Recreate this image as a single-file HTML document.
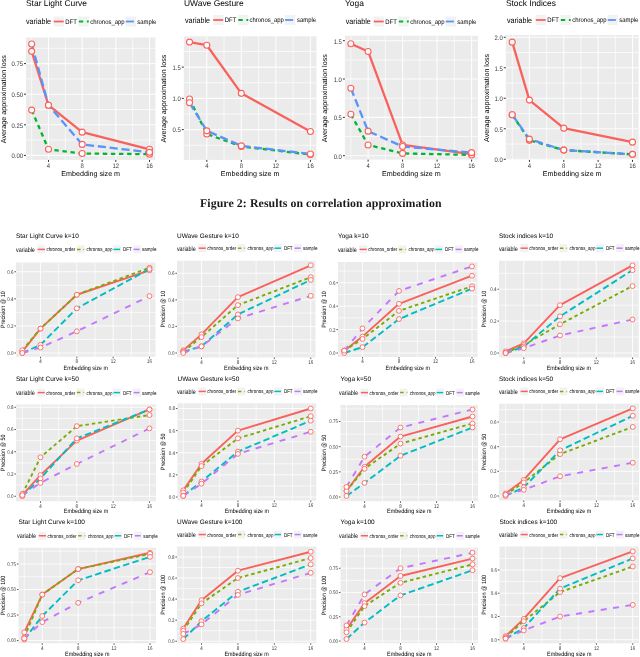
<!DOCTYPE html><html><head><meta charset="utf-8"><style>html,body{margin:0;padding:0;background:#fff;}svg{display:block;will-change:transform;}</style></head><body>
<svg width="640" height="657" viewBox="0 0 640 657" text-rendering="geometricPrecision" font-family="'Liberation Sans', sans-serif">
<rect width="640" height="657" fill="#fff"/>
<rect x="26.00" y="37.50" width="129.40" height="122.40" fill="#EBEBEB"/>
<line x1="31.67" y1="37.50" x2="31.67" y2="159.90" stroke="#FFFFFF" stroke-opacity="0.75" stroke-width="0.9"/>
<line x1="65.33" y1="37.50" x2="65.33" y2="159.90" stroke="#FFFFFF" stroke-opacity="0.75" stroke-width="0.9"/>
<line x1="99.00" y1="37.50" x2="99.00" y2="159.90" stroke="#FFFFFF" stroke-opacity="0.75" stroke-width="0.9"/>
<line x1="132.67" y1="37.50" x2="132.67" y2="159.90" stroke="#FFFFFF" stroke-opacity="0.75" stroke-width="0.9"/>
<line x1="26.00" y1="140.10" x2="155.40" y2="140.10" stroke="#FFFFFF" stroke-opacity="0.75" stroke-width="0.9"/>
<line x1="26.00" y1="109.50" x2="155.40" y2="109.50" stroke="#FFFFFF" stroke-opacity="0.75" stroke-width="0.9"/>
<line x1="26.00" y1="78.90" x2="155.40" y2="78.90" stroke="#FFFFFF" stroke-opacity="0.75" stroke-width="0.9"/>
<line x1="26.00" y1="48.30" x2="155.40" y2="48.30" stroke="#FFFFFF" stroke-opacity="0.75" stroke-width="0.9"/>
<line x1="48.50" y1="37.50" x2="48.50" y2="159.90" stroke="#FFFFFF" stroke-opacity="0.9" stroke-width="1.1"/>
<line x1="82.17" y1="37.50" x2="82.17" y2="159.90" stroke="#FFFFFF" stroke-opacity="0.9" stroke-width="1.1"/>
<line x1="115.83" y1="37.50" x2="115.83" y2="159.90" stroke="#FFFFFF" stroke-opacity="0.9" stroke-width="1.1"/>
<line x1="149.50" y1="37.50" x2="149.50" y2="159.90" stroke="#FFFFFF" stroke-opacity="0.9" stroke-width="1.1"/>
<line x1="26.00" y1="155.40" x2="155.40" y2="155.40" stroke="#FFFFFF" stroke-opacity="0.9" stroke-width="1.1"/>
<line x1="26.00" y1="124.80" x2="155.40" y2="124.80" stroke="#FFFFFF" stroke-opacity="0.9" stroke-width="1.1"/>
<line x1="26.00" y1="94.20" x2="155.40" y2="94.20" stroke="#FFFFFF" stroke-opacity="0.9" stroke-width="1.1"/>
<line x1="26.00" y1="63.60" x2="155.40" y2="63.60" stroke="#FFFFFF" stroke-opacity="0.9" stroke-width="1.1"/>
<line x1="24.00" y1="155.40" x2="26.00" y2="155.40" stroke="#333333" stroke-width="1.0"/>
<text transform="translate(23.00,158.24) scale(0.909,1)" font-size="6.53" text-anchor="end" fill="#3A3A3A">0.00</text>
<line x1="24.00" y1="124.80" x2="26.00" y2="124.80" stroke="#333333" stroke-width="1.0"/>
<text transform="translate(23.00,127.64) scale(0.909,1)" font-size="6.53" text-anchor="end" fill="#3A3A3A">0.25</text>
<line x1="24.00" y1="94.20" x2="26.00" y2="94.20" stroke="#333333" stroke-width="1.0"/>
<text transform="translate(23.00,97.04) scale(0.909,1)" font-size="6.53" text-anchor="end" fill="#3A3A3A">0.50</text>
<line x1="24.00" y1="63.60" x2="26.00" y2="63.60" stroke="#333333" stroke-width="1.0"/>
<text transform="translate(23.00,66.44) scale(0.909,1)" font-size="6.53" text-anchor="end" fill="#3A3A3A">0.75</text>
<line x1="48.50" y1="159.90" x2="48.50" y2="161.90" stroke="#333333" stroke-width="1.0"/>
<text transform="translate(48.50,168.17) scale(0.909,1)" font-size="6.53" text-anchor="middle" fill="#3A3A3A">4</text>
<line x1="82.17" y1="159.90" x2="82.17" y2="161.90" stroke="#333333" stroke-width="1.0"/>
<text transform="translate(82.17,168.17) scale(0.909,1)" font-size="6.53" text-anchor="middle" fill="#3A3A3A">8</text>
<line x1="115.83" y1="159.90" x2="115.83" y2="161.90" stroke="#333333" stroke-width="1.0"/>
<text transform="translate(115.83,168.17) scale(0.909,1)" font-size="6.53" text-anchor="middle" fill="#3A3A3A">12</text>
<line x1="149.50" y1="159.90" x2="149.50" y2="161.90" stroke="#333333" stroke-width="1.0"/>
<text transform="translate(149.50,168.17) scale(0.909,1)" font-size="6.53" text-anchor="middle" fill="#3A3A3A">16</text>
<text transform="translate(90.70,175.80) scale(1.000,1)" font-size="7.15" text-anchor="middle" fill="#000">Embedding size m</text>
<text transform="translate(5.60,99.20) rotate(-90) scale(1.000,1)" font-size="7.15" text-anchor="middle" fill="#000">Average approximation loss</text>
<text x="26.00" y="6.20" font-size="8.44" fill="#000">Star Light Curve</text>
<svg x="26.00" y="37.50" width="129.40" height="122.40" viewBox="26.00 37.50 129.40 122.40" overflow="hidden">
<polyline points="31.67,51.36 48.50,105.22 82.17,132.14 149.50,149.28" fill="none" stroke="#F9625C" stroke-width="2.3" stroke-linejoin="round"/>
<polyline points="31.67,110.11 48.50,149.28 82.17,153.56 149.50,154.18" fill="none" stroke="#00B52F" stroke-width="2.3" stroke-dasharray="4.4 3.7" stroke-linejoin="round"/>
<polyline points="31.67,44.02 48.50,105.22 82.17,144.38 149.50,152.34" fill="none" stroke="#5A93FA" stroke-width="2.3" stroke-dasharray="8.1 3.8" stroke-linejoin="round"/>
<circle cx="31.67" cy="51.36" r="3.0" fill="#FFFFFF" stroke="#F9625C" stroke-width="1.1"/>
<circle cx="48.50" cy="105.22" r="3.0" fill="#FFFFFF" stroke="#F9625C" stroke-width="1.1"/>
<circle cx="82.17" cy="132.14" r="3.0" fill="#FFFFFF" stroke="#F9625C" stroke-width="1.1"/>
<circle cx="149.50" cy="149.28" r="3.0" fill="#FFFFFF" stroke="#F9625C" stroke-width="1.1"/>
<circle cx="31.67" cy="110.11" r="3.0" fill="#FFFFFF" stroke="#F9625C" stroke-width="1.1"/>
<circle cx="48.50" cy="149.28" r="3.0" fill="#FFFFFF" stroke="#F9625C" stroke-width="1.1"/>
<circle cx="82.17" cy="153.56" r="3.0" fill="#FFFFFF" stroke="#F9625C" stroke-width="1.1"/>
<circle cx="149.50" cy="154.18" r="3.0" fill="#FFFFFF" stroke="#F9625C" stroke-width="1.1"/>
<circle cx="31.67" cy="44.02" r="3.0" fill="#FFFFFF" stroke="#F9625C" stroke-width="1.1"/>
<circle cx="48.50" cy="105.22" r="3.0" fill="#FFFFFF" stroke="#F9625C" stroke-width="1.1"/>
<circle cx="82.17" cy="144.38" r="3.0" fill="#FFFFFF" stroke="#F9625C" stroke-width="1.1"/>
<circle cx="149.50" cy="152.34" r="3.0" fill="#FFFFFF" stroke="#F9625C" stroke-width="1.1"/>
</svg>
<text transform="translate(26.00,24.27) scale(0.893,1)" font-size="8.01" text-anchor="start" fill="#000">variable</text>
<rect x="53.50" y="16.50" width="10.50" height="10.00" fill="#F2F2F2"/>
<line x1="53.80" y1="21.50" x2="63.70" y2="21.50" stroke="#F9625C" stroke-width="1.8"/>
<text transform="translate(65.30,23.84) scale(0.893,1)" font-size="6.65" text-anchor="start" fill="#000">DFT</text>
<rect x="78.50" y="16.50" width="10.50" height="10.00" fill="#F2F2F2"/>
<line x1="78.80" y1="21.50" x2="88.70" y2="21.50" stroke="#00B52F" stroke-width="1.8" stroke-dasharray="4.4 3.7"/>
<text transform="translate(90.30,23.84) scale(0.893,1)" font-size="6.65" text-anchor="start" fill="#000">chronos_app</text>
<rect x="125.50" y="16.50" width="10.50" height="10.00" fill="#F2F2F2"/>
<line x1="125.80" y1="21.50" x2="135.70" y2="21.50" stroke="#5A93FA" stroke-width="1.8" stroke-dasharray="8.1 3.8"/>
<text transform="translate(137.30,23.84) scale(0.893,1)" font-size="6.65" text-anchor="start" fill="#000">sample</text>
<rect x="183.80" y="36.25" width="132.70" height="123.65" fill="#EBEBEB"/>
<line x1="189.53" y1="36.25" x2="189.53" y2="159.90" stroke="#FFFFFF" stroke-opacity="0.75" stroke-width="0.9"/>
<line x1="224.07" y1="36.25" x2="224.07" y2="159.90" stroke="#FFFFFF" stroke-opacity="0.75" stroke-width="0.9"/>
<line x1="258.60" y1="36.25" x2="258.60" y2="159.90" stroke="#FFFFFF" stroke-opacity="0.75" stroke-width="0.9"/>
<line x1="293.13" y1="36.25" x2="293.13" y2="159.90" stroke="#FFFFFF" stroke-opacity="0.75" stroke-width="0.9"/>
<line x1="183.80" y1="145.22" x2="316.50" y2="145.22" stroke="#FFFFFF" stroke-opacity="0.75" stroke-width="0.9"/>
<line x1="183.80" y1="113.97" x2="316.50" y2="113.97" stroke="#FFFFFF" stroke-opacity="0.75" stroke-width="0.9"/>
<line x1="183.80" y1="82.72" x2="316.50" y2="82.72" stroke="#FFFFFF" stroke-opacity="0.75" stroke-width="0.9"/>
<line x1="183.80" y1="51.47" x2="316.50" y2="51.47" stroke="#FFFFFF" stroke-opacity="0.75" stroke-width="0.9"/>
<line x1="206.80" y1="36.25" x2="206.80" y2="159.90" stroke="#FFFFFF" stroke-opacity="0.9" stroke-width="1.1"/>
<line x1="241.33" y1="36.25" x2="241.33" y2="159.90" stroke="#FFFFFF" stroke-opacity="0.9" stroke-width="1.1"/>
<line x1="275.87" y1="36.25" x2="275.87" y2="159.90" stroke="#FFFFFF" stroke-opacity="0.9" stroke-width="1.1"/>
<line x1="310.40" y1="36.25" x2="310.40" y2="159.90" stroke="#FFFFFF" stroke-opacity="0.9" stroke-width="1.1"/>
<line x1="183.80" y1="129.60" x2="316.50" y2="129.60" stroke="#FFFFFF" stroke-opacity="0.9" stroke-width="1.1"/>
<line x1="183.80" y1="98.35" x2="316.50" y2="98.35" stroke="#FFFFFF" stroke-opacity="0.9" stroke-width="1.1"/>
<line x1="183.80" y1="67.10" x2="316.50" y2="67.10" stroke="#FFFFFF" stroke-opacity="0.9" stroke-width="1.1"/>
<line x1="181.80" y1="129.60" x2="183.80" y2="129.60" stroke="#333333" stroke-width="1.0"/>
<text transform="translate(180.80,132.44) scale(0.909,1)" font-size="6.53" text-anchor="end" fill="#3A3A3A">0.5</text>
<line x1="181.80" y1="98.35" x2="183.80" y2="98.35" stroke="#333333" stroke-width="1.0"/>
<text transform="translate(180.80,101.19) scale(0.909,1)" font-size="6.53" text-anchor="end" fill="#3A3A3A">1.0</text>
<line x1="181.80" y1="67.10" x2="183.80" y2="67.10" stroke="#333333" stroke-width="1.0"/>
<text transform="translate(180.80,69.94) scale(0.909,1)" font-size="6.53" text-anchor="end" fill="#3A3A3A">1.5</text>
<line x1="206.80" y1="159.90" x2="206.80" y2="161.90" stroke="#333333" stroke-width="1.0"/>
<text transform="translate(206.80,168.17) scale(0.909,1)" font-size="6.53" text-anchor="middle" fill="#3A3A3A">4</text>
<line x1="241.33" y1="159.90" x2="241.33" y2="161.90" stroke="#333333" stroke-width="1.0"/>
<text transform="translate(241.33,168.17) scale(0.909,1)" font-size="6.53" text-anchor="middle" fill="#3A3A3A">8</text>
<line x1="275.87" y1="159.90" x2="275.87" y2="161.90" stroke="#333333" stroke-width="1.0"/>
<text transform="translate(275.87,168.17) scale(0.909,1)" font-size="6.53" text-anchor="middle" fill="#3A3A3A">12</text>
<line x1="310.40" y1="159.90" x2="310.40" y2="161.90" stroke="#333333" stroke-width="1.0"/>
<text transform="translate(310.40,168.17) scale(0.909,1)" font-size="6.53" text-anchor="middle" fill="#3A3A3A">16</text>
<text transform="translate(250.15,175.80) scale(1.000,1)" font-size="7.15" text-anchor="middle" fill="#000">Embedding size m</text>
<text transform="translate(166.40,98.58) rotate(-90) scale(1.000,1)" font-size="7.15" text-anchor="middle" fill="#000">Average approximation loss</text>
<text x="184.00" y="6.20" font-size="8.44" fill="#000">UWave Gesture</text>
<svg x="183.80" y="36.25" width="132.70" height="123.65" viewBox="183.80 36.25 132.70 123.65" overflow="hidden">
<polyline points="189.53,42.10 206.80,45.22 241.33,93.35 310.40,131.47" fill="none" stroke="#F9625C" stroke-width="2.3" stroke-linejoin="round"/>
<polyline points="189.53,98.97 206.80,133.97 241.33,146.47 310.40,154.60" fill="none" stroke="#00B52F" stroke-width="2.3" stroke-dasharray="4.4 3.7" stroke-linejoin="round"/>
<polyline points="189.53,102.72 206.80,130.85 241.33,145.85 310.40,153.97" fill="none" stroke="#5A93FA" stroke-width="2.3" stroke-dasharray="8.1 3.8" stroke-linejoin="round"/>
<circle cx="189.53" cy="42.10" r="3.0" fill="#FFFFFF" stroke="#F9625C" stroke-width="1.1"/>
<circle cx="206.80" cy="45.22" r="3.0" fill="#FFFFFF" stroke="#F9625C" stroke-width="1.1"/>
<circle cx="241.33" cy="93.35" r="3.0" fill="#FFFFFF" stroke="#F9625C" stroke-width="1.1"/>
<circle cx="310.40" cy="131.47" r="3.0" fill="#FFFFFF" stroke="#F9625C" stroke-width="1.1"/>
<circle cx="189.53" cy="98.97" r="3.0" fill="#FFFFFF" stroke="#F9625C" stroke-width="1.1"/>
<circle cx="206.80" cy="133.97" r="3.0" fill="#FFFFFF" stroke="#F9625C" stroke-width="1.1"/>
<circle cx="241.33" cy="146.47" r="3.0" fill="#FFFFFF" stroke="#F9625C" stroke-width="1.1"/>
<circle cx="310.40" cy="154.60" r="3.0" fill="#FFFFFF" stroke="#F9625C" stroke-width="1.1"/>
<circle cx="189.53" cy="102.72" r="3.0" fill="#FFFFFF" stroke="#F9625C" stroke-width="1.1"/>
<circle cx="206.80" cy="130.85" r="3.0" fill="#FFFFFF" stroke="#F9625C" stroke-width="1.1"/>
<circle cx="241.33" cy="145.85" r="3.0" fill="#FFFFFF" stroke="#F9625C" stroke-width="1.1"/>
<circle cx="310.40" cy="153.97" r="3.0" fill="#FFFFFF" stroke="#F9625C" stroke-width="1.1"/>
</svg>
<text transform="translate(185.00,22.77) scale(0.893,1)" font-size="8.01" text-anchor="start" fill="#000">variable</text>
<rect x="213.00" y="15.00" width="10.50" height="10.00" fill="#F2F2F2"/>
<line x1="213.30" y1="20.00" x2="223.20" y2="20.00" stroke="#F9625C" stroke-width="1.8"/>
<text transform="translate(224.80,22.34) scale(0.893,1)" font-size="6.65" text-anchor="start" fill="#000">DFT</text>
<rect x="238.00" y="15.00" width="10.50" height="10.00" fill="#F2F2F2"/>
<line x1="238.30" y1="20.00" x2="248.20" y2="20.00" stroke="#00B52F" stroke-width="1.8" stroke-dasharray="4.4 3.7"/>
<text transform="translate(249.55,22.34) scale(0.893,1)" font-size="6.65" text-anchor="start" fill="#000">chronos_app</text>
<rect x="284.75" y="15.00" width="10.50" height="10.00" fill="#F2F2F2"/>
<line x1="285.05" y1="20.00" x2="294.95" y2="20.00" stroke="#5A93FA" stroke-width="1.8" stroke-dasharray="8.1 3.8"/>
<text transform="translate(297.05,22.34) scale(0.893,1)" font-size="6.65" text-anchor="start" fill="#000">sample</text>
<rect x="344.90" y="35.75" width="133.00" height="123.85" fill="#EBEBEB"/>
<line x1="350.85" y1="35.75" x2="350.85" y2="159.60" stroke="#FFFFFF" stroke-opacity="0.75" stroke-width="0.9"/>
<line x1="385.35" y1="35.75" x2="385.35" y2="159.60" stroke="#FFFFFF" stroke-opacity="0.75" stroke-width="0.9"/>
<line x1="419.85" y1="35.75" x2="419.85" y2="159.60" stroke="#FFFFFF" stroke-opacity="0.75" stroke-width="0.9"/>
<line x1="454.35" y1="35.75" x2="454.35" y2="159.60" stroke="#FFFFFF" stroke-opacity="0.75" stroke-width="0.9"/>
<line x1="344.90" y1="136.53" x2="477.90" y2="136.53" stroke="#FFFFFF" stroke-opacity="0.75" stroke-width="0.9"/>
<line x1="344.90" y1="98.20" x2="477.90" y2="98.20" stroke="#FFFFFF" stroke-opacity="0.75" stroke-width="0.9"/>
<line x1="344.90" y1="59.87" x2="477.90" y2="59.87" stroke="#FFFFFF" stroke-opacity="0.75" stroke-width="0.9"/>
<line x1="368.10" y1="35.75" x2="368.10" y2="159.60" stroke="#FFFFFF" stroke-opacity="0.9" stroke-width="1.1"/>
<line x1="402.60" y1="35.75" x2="402.60" y2="159.60" stroke="#FFFFFF" stroke-opacity="0.9" stroke-width="1.1"/>
<line x1="437.10" y1="35.75" x2="437.10" y2="159.60" stroke="#FFFFFF" stroke-opacity="0.9" stroke-width="1.1"/>
<line x1="471.60" y1="35.75" x2="471.60" y2="159.60" stroke="#FFFFFF" stroke-opacity="0.9" stroke-width="1.1"/>
<line x1="344.90" y1="155.70" x2="477.90" y2="155.70" stroke="#FFFFFF" stroke-opacity="0.9" stroke-width="1.1"/>
<line x1="344.90" y1="117.37" x2="477.90" y2="117.37" stroke="#FFFFFF" stroke-opacity="0.9" stroke-width="1.1"/>
<line x1="344.90" y1="79.03" x2="477.90" y2="79.03" stroke="#FFFFFF" stroke-opacity="0.9" stroke-width="1.1"/>
<line x1="344.90" y1="40.70" x2="477.90" y2="40.70" stroke="#FFFFFF" stroke-opacity="0.9" stroke-width="1.1"/>
<line x1="342.90" y1="155.70" x2="344.90" y2="155.70" stroke="#333333" stroke-width="1.0"/>
<text transform="translate(341.90,158.54) scale(0.909,1)" font-size="6.53" text-anchor="end" fill="#3A3A3A">0.0</text>
<line x1="342.90" y1="117.37" x2="344.90" y2="117.37" stroke="#333333" stroke-width="1.0"/>
<text transform="translate(341.90,120.20) scale(0.909,1)" font-size="6.53" text-anchor="end" fill="#3A3A3A">0.5</text>
<line x1="342.90" y1="79.03" x2="344.90" y2="79.03" stroke="#333333" stroke-width="1.0"/>
<text transform="translate(341.90,81.87) scale(0.909,1)" font-size="6.53" text-anchor="end" fill="#3A3A3A">1.0</text>
<line x1="342.90" y1="40.70" x2="344.90" y2="40.70" stroke="#333333" stroke-width="1.0"/>
<text transform="translate(341.90,43.54) scale(0.909,1)" font-size="6.53" text-anchor="end" fill="#3A3A3A">1.5</text>
<line x1="368.10" y1="159.60" x2="368.10" y2="161.60" stroke="#333333" stroke-width="1.0"/>
<text transform="translate(368.10,167.87) scale(0.909,1)" font-size="6.53" text-anchor="middle" fill="#3A3A3A">4</text>
<line x1="402.60" y1="159.60" x2="402.60" y2="161.60" stroke="#333333" stroke-width="1.0"/>
<text transform="translate(402.60,167.87) scale(0.909,1)" font-size="6.53" text-anchor="middle" fill="#3A3A3A">8</text>
<line x1="437.10" y1="159.60" x2="437.10" y2="161.60" stroke="#333333" stroke-width="1.0"/>
<text transform="translate(437.10,167.87) scale(0.909,1)" font-size="6.53" text-anchor="middle" fill="#3A3A3A">12</text>
<line x1="471.60" y1="159.60" x2="471.60" y2="161.60" stroke="#333333" stroke-width="1.0"/>
<text transform="translate(471.60,167.87) scale(0.909,1)" font-size="6.53" text-anchor="middle" fill="#3A3A3A">16</text>
<text transform="translate(411.40,175.80) scale(1.000,1)" font-size="7.15" text-anchor="middle" fill="#000">Embedding size m</text>
<text transform="translate(327.40,98.17) rotate(-90) scale(1.000,1)" font-size="7.15" text-anchor="middle" fill="#000">Average approximation loss</text>
<text x="345.00" y="6.20" font-size="8.44" fill="#000">Yoga</text>
<svg x="344.90" y="35.75" width="133.00" height="123.85" viewBox="344.90 35.75 133.00 123.85" overflow="hidden">
<polyline points="350.85,43.77 368.10,51.43 402.60,144.97 471.60,154.17" fill="none" stroke="#F9625C" stroke-width="2.3" stroke-linejoin="round"/>
<polyline points="350.85,114.30 368.10,144.97 402.60,153.40 471.60,154.93" fill="none" stroke="#00B52F" stroke-width="2.3" stroke-dasharray="4.4 3.7" stroke-linejoin="round"/>
<polyline points="350.85,88.23 368.10,131.17 402.60,146.50 471.60,152.63" fill="none" stroke="#5A93FA" stroke-width="2.3" stroke-dasharray="8.1 3.8" stroke-linejoin="round"/>
<circle cx="350.85" cy="43.77" r="3.0" fill="#FFFFFF" stroke="#F9625C" stroke-width="1.1"/>
<circle cx="368.10" cy="51.43" r="3.0" fill="#FFFFFF" stroke="#F9625C" stroke-width="1.1"/>
<circle cx="402.60" cy="144.97" r="3.0" fill="#FFFFFF" stroke="#F9625C" stroke-width="1.1"/>
<circle cx="471.60" cy="154.17" r="3.0" fill="#FFFFFF" stroke="#F9625C" stroke-width="1.1"/>
<circle cx="350.85" cy="114.30" r="3.0" fill="#FFFFFF" stroke="#F9625C" stroke-width="1.1"/>
<circle cx="368.10" cy="144.97" r="3.0" fill="#FFFFFF" stroke="#F9625C" stroke-width="1.1"/>
<circle cx="402.60" cy="153.40" r="3.0" fill="#FFFFFF" stroke="#F9625C" stroke-width="1.1"/>
<circle cx="471.60" cy="154.93" r="3.0" fill="#FFFFFF" stroke="#F9625C" stroke-width="1.1"/>
<circle cx="350.85" cy="88.23" r="3.0" fill="#FFFFFF" stroke="#F9625C" stroke-width="1.1"/>
<circle cx="368.10" cy="131.17" r="3.0" fill="#FFFFFF" stroke="#F9625C" stroke-width="1.1"/>
<circle cx="402.60" cy="146.50" r="3.0" fill="#FFFFFF" stroke="#F9625C" stroke-width="1.1"/>
<circle cx="471.60" cy="152.63" r="3.0" fill="#FFFFFF" stroke="#F9625C" stroke-width="1.1"/>
</svg>
<text transform="translate(345.75,24.27) scale(0.893,1)" font-size="8.01" text-anchor="start" fill="#000">variable</text>
<rect x="373.50" y="16.50" width="10.50" height="10.00" fill="#F2F2F2"/>
<line x1="373.80" y1="21.50" x2="383.70" y2="21.50" stroke="#F9625C" stroke-width="1.8"/>
<text transform="translate(385.30,23.84) scale(0.893,1)" font-size="6.65" text-anchor="start" fill="#000">DFT</text>
<rect x="398.50" y="16.50" width="10.50" height="10.00" fill="#F2F2F2"/>
<line x1="398.80" y1="21.50" x2="408.70" y2="21.50" stroke="#00B52F" stroke-width="1.8" stroke-dasharray="4.4 3.7"/>
<text transform="translate(410.30,23.84) scale(0.893,1)" font-size="6.65" text-anchor="start" fill="#000">chronos_app</text>
<rect x="445.50" y="16.50" width="10.50" height="10.00" fill="#F2F2F2"/>
<line x1="445.80" y1="21.50" x2="455.70" y2="21.50" stroke="#5A93FA" stroke-width="1.8" stroke-dasharray="8.1 3.8"/>
<text transform="translate(457.30,23.84) scale(0.893,1)" font-size="6.65" text-anchor="start" fill="#000">sample</text>
<rect x="505.80" y="35.00" width="132.80" height="124.90" fill="#EBEBEB"/>
<line x1="512.22" y1="35.00" x2="512.22" y2="159.90" stroke="#FFFFFF" stroke-opacity="0.75" stroke-width="0.9"/>
<line x1="546.58" y1="35.00" x2="546.58" y2="159.90" stroke="#FFFFFF" stroke-opacity="0.75" stroke-width="0.9"/>
<line x1="580.95" y1="35.00" x2="580.95" y2="159.90" stroke="#FFFFFF" stroke-opacity="0.75" stroke-width="0.9"/>
<line x1="615.32" y1="35.00" x2="615.32" y2="159.90" stroke="#FFFFFF" stroke-opacity="0.75" stroke-width="0.9"/>
<line x1="505.80" y1="144.00" x2="638.60" y2="144.00" stroke="#FFFFFF" stroke-opacity="0.75" stroke-width="0.9"/>
<line x1="505.80" y1="113.50" x2="638.60" y2="113.50" stroke="#FFFFFF" stroke-opacity="0.75" stroke-width="0.9"/>
<line x1="505.80" y1="83.00" x2="638.60" y2="83.00" stroke="#FFFFFF" stroke-opacity="0.75" stroke-width="0.9"/>
<line x1="505.80" y1="52.50" x2="638.60" y2="52.50" stroke="#FFFFFF" stroke-opacity="0.75" stroke-width="0.9"/>
<line x1="529.40" y1="35.00" x2="529.40" y2="159.90" stroke="#FFFFFF" stroke-opacity="0.9" stroke-width="1.1"/>
<line x1="563.77" y1="35.00" x2="563.77" y2="159.90" stroke="#FFFFFF" stroke-opacity="0.9" stroke-width="1.1"/>
<line x1="598.13" y1="35.00" x2="598.13" y2="159.90" stroke="#FFFFFF" stroke-opacity="0.9" stroke-width="1.1"/>
<line x1="632.50" y1="35.00" x2="632.50" y2="159.90" stroke="#FFFFFF" stroke-opacity="0.9" stroke-width="1.1"/>
<line x1="505.80" y1="159.25" x2="638.60" y2="159.25" stroke="#FFFFFF" stroke-opacity="0.9" stroke-width="1.1"/>
<line x1="505.80" y1="128.75" x2="638.60" y2="128.75" stroke="#FFFFFF" stroke-opacity="0.9" stroke-width="1.1"/>
<line x1="505.80" y1="98.25" x2="638.60" y2="98.25" stroke="#FFFFFF" stroke-opacity="0.9" stroke-width="1.1"/>
<line x1="505.80" y1="67.75" x2="638.60" y2="67.75" stroke="#FFFFFF" stroke-opacity="0.9" stroke-width="1.1"/>
<line x1="505.80" y1="37.25" x2="638.60" y2="37.25" stroke="#FFFFFF" stroke-opacity="0.9" stroke-width="1.1"/>
<line x1="503.80" y1="159.25" x2="505.80" y2="159.25" stroke="#333333" stroke-width="1.0"/>
<text transform="translate(502.80,162.09) scale(0.909,1)" font-size="6.53" text-anchor="end" fill="#3A3A3A">0.0</text>
<line x1="503.80" y1="128.75" x2="505.80" y2="128.75" stroke="#333333" stroke-width="1.0"/>
<text transform="translate(502.80,131.59) scale(0.909,1)" font-size="6.53" text-anchor="end" fill="#3A3A3A">0.5</text>
<line x1="503.80" y1="98.25" x2="505.80" y2="98.25" stroke="#333333" stroke-width="1.0"/>
<text transform="translate(502.80,101.09) scale(0.909,1)" font-size="6.53" text-anchor="end" fill="#3A3A3A">1.0</text>
<line x1="503.80" y1="67.75" x2="505.80" y2="67.75" stroke="#333333" stroke-width="1.0"/>
<text transform="translate(502.80,70.59) scale(0.909,1)" font-size="6.53" text-anchor="end" fill="#3A3A3A">1.5</text>
<line x1="503.80" y1="37.25" x2="505.80" y2="37.25" stroke="#333333" stroke-width="1.0"/>
<text transform="translate(502.80,40.09) scale(0.909,1)" font-size="6.53" text-anchor="end" fill="#3A3A3A">2.0</text>
<line x1="529.40" y1="159.90" x2="529.40" y2="161.90" stroke="#333333" stroke-width="1.0"/>
<text transform="translate(529.40,168.17) scale(0.909,1)" font-size="6.53" text-anchor="middle" fill="#3A3A3A">4</text>
<line x1="563.77" y1="159.90" x2="563.77" y2="161.90" stroke="#333333" stroke-width="1.0"/>
<text transform="translate(563.77,168.17) scale(0.909,1)" font-size="6.53" text-anchor="middle" fill="#3A3A3A">8</text>
<line x1="598.13" y1="159.90" x2="598.13" y2="161.90" stroke="#333333" stroke-width="1.0"/>
<text transform="translate(598.13,168.17) scale(0.909,1)" font-size="6.53" text-anchor="middle" fill="#3A3A3A">12</text>
<line x1="632.50" y1="159.90" x2="632.50" y2="161.90" stroke="#333333" stroke-width="1.0"/>
<text transform="translate(632.50,168.17) scale(0.909,1)" font-size="6.53" text-anchor="middle" fill="#3A3A3A">16</text>
<text transform="translate(572.20,175.80) scale(1.000,1)" font-size="7.15" text-anchor="middle" fill="#000">Embedding size m</text>
<text transform="translate(489.40,97.95) rotate(-90) scale(1.000,1)" font-size="7.15" text-anchor="middle" fill="#000">Average approximation loss</text>
<text x="505.90" y="6.20" font-size="8.44" fill="#000">Stock Indices</text>
<svg x="505.80" y="35.00" width="132.80" height="124.90" viewBox="505.80 35.00 132.80 124.90" overflow="hidden">
<polyline points="512.22,42.13 529.40,100.08 563.77,128.14 632.50,142.17" fill="none" stroke="#F9625C" stroke-width="2.3" stroke-linejoin="round"/>
<polyline points="512.22,114.72 529.40,140.34 563.77,150.10 632.50,154.37" fill="none" stroke="#00B52F" stroke-width="2.3" stroke-dasharray="4.4 3.7" stroke-linejoin="round"/>
<polyline points="512.22,114.72 529.40,139.12 563.77,150.10 632.50,154.37" fill="none" stroke="#5A93FA" stroke-width="2.3" stroke-dasharray="8.1 3.8" stroke-linejoin="round"/>
<circle cx="512.22" cy="42.13" r="3.0" fill="#FFFFFF" stroke="#F9625C" stroke-width="1.1"/>
<circle cx="529.40" cy="100.08" r="3.0" fill="#FFFFFF" stroke="#F9625C" stroke-width="1.1"/>
<circle cx="563.77" cy="128.14" r="3.0" fill="#FFFFFF" stroke="#F9625C" stroke-width="1.1"/>
<circle cx="632.50" cy="142.17" r="3.0" fill="#FFFFFF" stroke="#F9625C" stroke-width="1.1"/>
<circle cx="512.22" cy="114.72" r="3.0" fill="#FFFFFF" stroke="#F9625C" stroke-width="1.1"/>
<circle cx="529.40" cy="140.34" r="3.0" fill="#FFFFFF" stroke="#F9625C" stroke-width="1.1"/>
<circle cx="563.77" cy="150.10" r="3.0" fill="#FFFFFF" stroke="#F9625C" stroke-width="1.1"/>
<circle cx="632.50" cy="154.37" r="3.0" fill="#FFFFFF" stroke="#F9625C" stroke-width="1.1"/>
<circle cx="512.22" cy="114.72" r="3.0" fill="#FFFFFF" stroke="#F9625C" stroke-width="1.1"/>
<circle cx="529.40" cy="139.12" r="3.0" fill="#FFFFFF" stroke="#F9625C" stroke-width="1.1"/>
<circle cx="563.77" cy="150.10" r="3.0" fill="#FFFFFF" stroke="#F9625C" stroke-width="1.1"/>
<circle cx="632.50" cy="154.37" r="3.0" fill="#FFFFFF" stroke="#F9625C" stroke-width="1.1"/>
</svg>
<text transform="translate(507.00,22.77) scale(0.893,1)" font-size="8.01" text-anchor="start" fill="#000">variable</text>
<rect x="535.50" y="15.00" width="10.50" height="10.00" fill="#F2F2F2"/>
<line x1="535.80" y1="20.00" x2="545.70" y2="20.00" stroke="#F9625C" stroke-width="1.8"/>
<text transform="translate(547.30,22.34) scale(0.893,1)" font-size="6.65" text-anchor="start" fill="#000">DFT</text>
<rect x="560.50" y="15.00" width="10.50" height="10.00" fill="#F2F2F2"/>
<line x1="560.80" y1="20.00" x2="570.70" y2="20.00" stroke="#00B52F" stroke-width="1.8" stroke-dasharray="4.4 3.7"/>
<text transform="translate(572.30,22.34) scale(0.893,1)" font-size="6.65" text-anchor="start" fill="#000">chronos_app</text>
<rect x="607.50" y="15.00" width="10.50" height="10.00" fill="#F2F2F2"/>
<line x1="607.80" y1="20.00" x2="617.70" y2="20.00" stroke="#5A93FA" stroke-width="1.8" stroke-dasharray="8.1 3.8"/>
<text transform="translate(619.30,22.34) scale(0.893,1)" font-size="6.65" text-anchor="start" fill="#000">sample</text>
<rect x="16.00" y="262.50" width="139.50" height="94.25" fill="#EBEBEB"/>
<line x1="22.33" y1="262.50" x2="22.33" y2="356.75" stroke="#FFFFFF" stroke-opacity="0.75" stroke-width="0.9"/>
<line x1="58.67" y1="262.50" x2="58.67" y2="356.75" stroke="#FFFFFF" stroke-opacity="0.75" stroke-width="0.9"/>
<line x1="95.00" y1="262.50" x2="95.00" y2="356.75" stroke="#FFFFFF" stroke-opacity="0.75" stroke-width="0.9"/>
<line x1="131.33" y1="262.50" x2="131.33" y2="356.75" stroke="#FFFFFF" stroke-opacity="0.75" stroke-width="0.9"/>
<line x1="16.00" y1="339.46" x2="155.50" y2="339.46" stroke="#FFFFFF" stroke-opacity="0.75" stroke-width="0.9"/>
<line x1="16.00" y1="312.38" x2="155.50" y2="312.38" stroke="#FFFFFF" stroke-opacity="0.75" stroke-width="0.9"/>
<line x1="16.00" y1="285.29" x2="155.50" y2="285.29" stroke="#FFFFFF" stroke-opacity="0.75" stroke-width="0.9"/>
<line x1="40.50" y1="262.50" x2="40.50" y2="356.75" stroke="#FFFFFF" stroke-opacity="0.85" stroke-width="1.0"/>
<line x1="76.83" y1="262.50" x2="76.83" y2="356.75" stroke="#FFFFFF" stroke-opacity="0.85" stroke-width="1.0"/>
<line x1="113.17" y1="262.50" x2="113.17" y2="356.75" stroke="#FFFFFF" stroke-opacity="0.85" stroke-width="1.0"/>
<line x1="149.50" y1="262.50" x2="149.50" y2="356.75" stroke="#FFFFFF" stroke-opacity="0.85" stroke-width="1.0"/>
<line x1="16.00" y1="353.00" x2="155.50" y2="353.00" stroke="#FFFFFF" stroke-opacity="0.85" stroke-width="1.0"/>
<line x1="16.00" y1="325.92" x2="155.50" y2="325.92" stroke="#FFFFFF" stroke-opacity="0.85" stroke-width="1.0"/>
<line x1="16.00" y1="298.83" x2="155.50" y2="298.83" stroke="#FFFFFF" stroke-opacity="0.85" stroke-width="1.0"/>
<line x1="16.00" y1="271.75" x2="155.50" y2="271.75" stroke="#FFFFFF" stroke-opacity="0.85" stroke-width="1.0"/>
<line x1="14.40" y1="353.00" x2="16.00" y2="353.00" stroke="#333333" stroke-width="0.8"/>
<text transform="translate(13.40,354.91) scale(0.847,1)" font-size="5.29" text-anchor="end" fill="#3A3A3A">0.0</text>
<line x1="14.40" y1="325.92" x2="16.00" y2="325.92" stroke="#333333" stroke-width="0.8"/>
<text transform="translate(13.40,327.83) scale(0.847,1)" font-size="5.29" text-anchor="end" fill="#3A3A3A">0.2</text>
<line x1="14.40" y1="298.83" x2="16.00" y2="298.83" stroke="#333333" stroke-width="0.8"/>
<text transform="translate(13.40,300.75) scale(0.847,1)" font-size="5.29" text-anchor="end" fill="#3A3A3A">0.4</text>
<line x1="14.40" y1="271.75" x2="16.00" y2="271.75" stroke="#333333" stroke-width="0.8"/>
<text transform="translate(13.40,273.66) scale(0.847,1)" font-size="5.29" text-anchor="end" fill="#3A3A3A">0.6</text>
<line x1="40.50" y1="356.75" x2="40.50" y2="358.35" stroke="#333333" stroke-width="0.8"/>
<text transform="translate(40.50,363.18) scale(0.847,1)" font-size="5.29" text-anchor="middle" fill="#3A3A3A">4</text>
<line x1="76.83" y1="356.75" x2="76.83" y2="358.35" stroke="#333333" stroke-width="0.8"/>
<text transform="translate(76.83,363.18) scale(0.847,1)" font-size="5.29" text-anchor="middle" fill="#3A3A3A">8</text>
<line x1="113.17" y1="356.75" x2="113.17" y2="358.35" stroke="#333333" stroke-width="0.8"/>
<text transform="translate(113.17,363.18) scale(0.847,1)" font-size="5.29" text-anchor="middle" fill="#3A3A3A">12</text>
<line x1="149.50" y1="356.75" x2="149.50" y2="358.35" stroke="#333333" stroke-width="0.8"/>
<text transform="translate(149.50,363.18) scale(0.847,1)" font-size="5.29" text-anchor="middle" fill="#3A3A3A">16</text>
<text transform="translate(85.75,370.00) scale(0.870,1)" font-size="6.21" text-anchor="middle" fill="#000">Embedding size m</text>
<text transform="translate(4.60,309.62) rotate(-90) scale(0.870,1)" font-size="6.21" text-anchor="middle" fill="#000">Precision @ 10</text>
<text x="16.00" y="238.00" font-size="6.48" fill="#000">Star Light Curve k=10</text>
<svg x="16.00" y="262.50" width="139.50" height="94.25" viewBox="16.00 262.50 139.50 94.25" overflow="hidden">
<polyline points="22.33,351.65 40.50,328.62 76.83,294.77 149.50,270.40" fill="none" stroke="#F9625C" stroke-width="1.9" stroke-linejoin="round"/>
<polyline points="22.33,350.29 40.50,328.62 76.83,294.77 149.50,267.69" fill="none" stroke="#78AC00" stroke-width="1.9" stroke-dasharray="3.5 3" stroke-linejoin="round"/>
<polyline points="22.33,353.00 40.50,344.88 76.83,308.31 149.50,269.04" fill="none" stroke="#00BDC2" stroke-width="1.9" stroke-dasharray="6.5 3.3" stroke-linejoin="round"/>
<polyline points="22.33,353.00 40.50,347.58 76.83,331.33 149.50,296.12" fill="none" stroke="#C476FF" stroke-width="1.9" stroke-dasharray="6 6.5" stroke-linejoin="round"/>
<circle cx="22.33" cy="351.65" r="2.45" fill="#FFFFFF" stroke="#F9625C" stroke-width="0.85"/>
<circle cx="40.50" cy="328.62" r="2.45" fill="#FFFFFF" stroke="#F9625C" stroke-width="0.85"/>
<circle cx="76.83" cy="294.77" r="2.45" fill="#FFFFFF" stroke="#F9625C" stroke-width="0.85"/>
<circle cx="149.50" cy="270.40" r="2.45" fill="#FFFFFF" stroke="#F9625C" stroke-width="0.85"/>
<circle cx="22.33" cy="350.29" r="2.45" fill="#FFFFFF" stroke="#F9625C" stroke-width="0.85"/>
<circle cx="40.50" cy="328.62" r="2.45" fill="#FFFFFF" stroke="#F9625C" stroke-width="0.85"/>
<circle cx="76.83" cy="294.77" r="2.45" fill="#FFFFFF" stroke="#F9625C" stroke-width="0.85"/>
<circle cx="149.50" cy="267.69" r="2.45" fill="#FFFFFF" stroke="#F9625C" stroke-width="0.85"/>
<circle cx="22.33" cy="353.00" r="2.45" fill="#FFFFFF" stroke="#F9625C" stroke-width="0.85"/>
<circle cx="40.50" cy="344.88" r="2.45" fill="#FFFFFF" stroke="#F9625C" stroke-width="0.85"/>
<circle cx="76.83" cy="308.31" r="2.45" fill="#FFFFFF" stroke="#F9625C" stroke-width="0.85"/>
<circle cx="149.50" cy="269.04" r="2.45" fill="#FFFFFF" stroke="#F9625C" stroke-width="0.85"/>
<circle cx="22.33" cy="353.00" r="2.45" fill="#FFFFFF" stroke="#F9625C" stroke-width="0.85"/>
<circle cx="40.50" cy="347.58" r="2.45" fill="#FFFFFF" stroke="#F9625C" stroke-width="0.85"/>
<circle cx="76.83" cy="331.33" r="2.45" fill="#FFFFFF" stroke="#F9625C" stroke-width="0.85"/>
<circle cx="149.50" cy="296.12" r="2.45" fill="#FFFFFF" stroke="#F9625C" stroke-width="0.85"/>
</svg>
<text transform="translate(16.00,251.74) scale(0.833,1)" font-size="6.48" text-anchor="start" fill="#000">variable</text>
<rect x="37.40" y="245.40" width="7.80" height="8.00" fill="#F2F2F2"/>
<line x1="37.70" y1="249.40" x2="44.90" y2="249.40" stroke="#F9625C" stroke-width="1.5"/>
<text transform="translate(46.40,251.41) scale(0.833,1)" font-size="5.38" text-anchor="start" fill="#000">chronos_order</text>
<rect x="76.70" y="245.40" width="7.80" height="8.00" fill="#F2F2F2"/>
<line x1="77.00" y1="249.40" x2="84.20" y2="249.40" stroke="#78AC00" stroke-width="1.5" stroke-dasharray="3.5 3"/>
<text transform="translate(86.60,251.41) scale(0.833,1)" font-size="5.38" text-anchor="start" fill="#000">chronos_app</text>
<rect x="113.30" y="245.40" width="7.80" height="8.00" fill="#F2F2F2"/>
<line x1="113.60" y1="249.40" x2="120.80" y2="249.40" stroke="#00BDC2" stroke-width="1.5" stroke-dasharray="6.5 3.3"/>
<text transform="translate(123.00,251.41) scale(0.833,1)" font-size="5.38" text-anchor="start" fill="#000">DFT</text>
<rect x="133.30" y="245.40" width="7.80" height="8.00" fill="#F2F2F2"/>
<line x1="133.60" y1="249.40" x2="140.80" y2="249.40" stroke="#C476FF" stroke-width="1.5" stroke-dasharray="6 6.5"/>
<text transform="translate(142.10,251.41) scale(0.833,1)" font-size="5.38" text-anchor="start" fill="#000">sample</text>
<rect x="177.00" y="260.75" width="138.50" height="96.75" fill="#EBEBEB"/>
<line x1="183.29" y1="260.75" x2="183.29" y2="357.50" stroke="#FFFFFF" stroke-opacity="0.75" stroke-width="0.9"/>
<line x1="219.71" y1="260.75" x2="219.71" y2="357.50" stroke="#FFFFFF" stroke-opacity="0.75" stroke-width="0.9"/>
<line x1="256.12" y1="260.75" x2="256.12" y2="357.50" stroke="#FFFFFF" stroke-opacity="0.75" stroke-width="0.9"/>
<line x1="292.54" y1="260.75" x2="292.54" y2="357.50" stroke="#FFFFFF" stroke-opacity="0.75" stroke-width="0.9"/>
<line x1="177.00" y1="339.71" x2="315.50" y2="339.71" stroke="#FFFFFF" stroke-opacity="0.75" stroke-width="0.9"/>
<line x1="177.00" y1="313.12" x2="315.50" y2="313.12" stroke="#FFFFFF" stroke-opacity="0.75" stroke-width="0.9"/>
<line x1="177.00" y1="286.54" x2="315.50" y2="286.54" stroke="#FFFFFF" stroke-opacity="0.75" stroke-width="0.9"/>
<line x1="201.50" y1="260.75" x2="201.50" y2="357.50" stroke="#FFFFFF" stroke-opacity="0.85" stroke-width="1.0"/>
<line x1="237.92" y1="260.75" x2="237.92" y2="357.50" stroke="#FFFFFF" stroke-opacity="0.85" stroke-width="1.0"/>
<line x1="274.33" y1="260.75" x2="274.33" y2="357.50" stroke="#FFFFFF" stroke-opacity="0.85" stroke-width="1.0"/>
<line x1="310.75" y1="260.75" x2="310.75" y2="357.50" stroke="#FFFFFF" stroke-opacity="0.85" stroke-width="1.0"/>
<line x1="177.00" y1="353.00" x2="315.50" y2="353.00" stroke="#FFFFFF" stroke-opacity="0.85" stroke-width="1.0"/>
<line x1="177.00" y1="326.42" x2="315.50" y2="326.42" stroke="#FFFFFF" stroke-opacity="0.85" stroke-width="1.0"/>
<line x1="177.00" y1="299.83" x2="315.50" y2="299.83" stroke="#FFFFFF" stroke-opacity="0.85" stroke-width="1.0"/>
<line x1="177.00" y1="273.25" x2="315.50" y2="273.25" stroke="#FFFFFF" stroke-opacity="0.85" stroke-width="1.0"/>
<line x1="175.40" y1="353.00" x2="177.00" y2="353.00" stroke="#333333" stroke-width="0.8"/>
<text transform="translate(174.40,354.91) scale(0.847,1)" font-size="5.29" text-anchor="end" fill="#3A3A3A">0.0</text>
<line x1="175.40" y1="326.42" x2="177.00" y2="326.42" stroke="#333333" stroke-width="0.8"/>
<text transform="translate(174.40,328.33) scale(0.847,1)" font-size="5.29" text-anchor="end" fill="#3A3A3A">0.2</text>
<line x1="175.40" y1="299.83" x2="177.00" y2="299.83" stroke="#333333" stroke-width="0.8"/>
<text transform="translate(174.40,301.75) scale(0.847,1)" font-size="5.29" text-anchor="end" fill="#3A3A3A">0.4</text>
<line x1="175.40" y1="273.25" x2="177.00" y2="273.25" stroke="#333333" stroke-width="0.8"/>
<text transform="translate(174.40,275.16) scale(0.847,1)" font-size="5.29" text-anchor="end" fill="#3A3A3A">0.6</text>
<line x1="201.50" y1="357.50" x2="201.50" y2="359.10" stroke="#333333" stroke-width="0.8"/>
<text transform="translate(201.50,363.93) scale(0.847,1)" font-size="5.29" text-anchor="middle" fill="#3A3A3A">4</text>
<line x1="237.92" y1="357.50" x2="237.92" y2="359.10" stroke="#333333" stroke-width="0.8"/>
<text transform="translate(237.92,363.93) scale(0.847,1)" font-size="5.29" text-anchor="middle" fill="#3A3A3A">8</text>
<line x1="274.33" y1="357.50" x2="274.33" y2="359.10" stroke="#333333" stroke-width="0.8"/>
<text transform="translate(274.33,363.93) scale(0.847,1)" font-size="5.29" text-anchor="middle" fill="#3A3A3A">12</text>
<line x1="310.75" y1="357.50" x2="310.75" y2="359.10" stroke="#333333" stroke-width="0.8"/>
<text transform="translate(310.75,363.93) scale(0.847,1)" font-size="5.29" text-anchor="middle" fill="#3A3A3A">16</text>
<text transform="translate(246.25,370.00) scale(0.870,1)" font-size="6.21" text-anchor="middle" fill="#000">Embedding size m</text>
<text transform="translate(165.10,309.12) rotate(-90) scale(0.870,1)" font-size="6.21" text-anchor="middle" fill="#000">Precision @ 10</text>
<text x="177.00" y="238.00" font-size="6.48" fill="#000">UWave Gesture k=10</text>
<svg x="177.00" y="260.75" width="138.50" height="96.75" viewBox="177.00 260.75 138.50 96.75" overflow="hidden">
<polyline points="183.29,350.34 201.50,334.39 237.92,297.18 310.75,265.27" fill="none" stroke="#F9625C" stroke-width="1.9" stroke-linejoin="round"/>
<polyline points="183.29,351.67 201.50,337.05 237.92,305.15 310.75,277.24" fill="none" stroke="#78AC00" stroke-width="1.9" stroke-dasharray="3.5 3" stroke-linejoin="round"/>
<polyline points="183.29,351.67 201.50,346.35 237.92,314.45 310.75,279.90" fill="none" stroke="#00BDC2" stroke-width="1.9" stroke-dasharray="6.5 3.3" stroke-linejoin="round"/>
<polyline points="183.29,353.00 201.50,346.35 237.92,318.44 310.75,295.85" fill="none" stroke="#C476FF" stroke-width="1.9" stroke-dasharray="6 6.5" stroke-linejoin="round"/>
<circle cx="183.29" cy="350.34" r="2.45" fill="#FFFFFF" stroke="#F9625C" stroke-width="0.85"/>
<circle cx="201.50" cy="334.39" r="2.45" fill="#FFFFFF" stroke="#F9625C" stroke-width="0.85"/>
<circle cx="237.92" cy="297.18" r="2.45" fill="#FFFFFF" stroke="#F9625C" stroke-width="0.85"/>
<circle cx="310.75" cy="265.27" r="2.45" fill="#FFFFFF" stroke="#F9625C" stroke-width="0.85"/>
<circle cx="183.29" cy="351.67" r="2.45" fill="#FFFFFF" stroke="#F9625C" stroke-width="0.85"/>
<circle cx="201.50" cy="337.05" r="2.45" fill="#FFFFFF" stroke="#F9625C" stroke-width="0.85"/>
<circle cx="237.92" cy="305.15" r="2.45" fill="#FFFFFF" stroke="#F9625C" stroke-width="0.85"/>
<circle cx="310.75" cy="277.24" r="2.45" fill="#FFFFFF" stroke="#F9625C" stroke-width="0.85"/>
<circle cx="183.29" cy="351.67" r="2.45" fill="#FFFFFF" stroke="#F9625C" stroke-width="0.85"/>
<circle cx="201.50" cy="346.35" r="2.45" fill="#FFFFFF" stroke="#F9625C" stroke-width="0.85"/>
<circle cx="237.92" cy="314.45" r="2.45" fill="#FFFFFF" stroke="#F9625C" stroke-width="0.85"/>
<circle cx="310.75" cy="279.90" r="2.45" fill="#FFFFFF" stroke="#F9625C" stroke-width="0.85"/>
<circle cx="183.29" cy="353.00" r="2.45" fill="#FFFFFF" stroke="#F9625C" stroke-width="0.85"/>
<circle cx="201.50" cy="346.35" r="2.45" fill="#FFFFFF" stroke="#F9625C" stroke-width="0.85"/>
<circle cx="237.92" cy="318.44" r="2.45" fill="#FFFFFF" stroke="#F9625C" stroke-width="0.85"/>
<circle cx="310.75" cy="295.85" r="2.45" fill="#FFFFFF" stroke="#F9625C" stroke-width="0.85"/>
</svg>
<text transform="translate(176.90,250.54) scale(0.833,1)" font-size="6.48" text-anchor="start" fill="#000">variable</text>
<rect x="198.30" y="244.20" width="7.80" height="8.00" fill="#F2F2F2"/>
<line x1="198.60" y1="248.20" x2="205.80" y2="248.20" stroke="#F9625C" stroke-width="1.5"/>
<text transform="translate(207.30,250.21) scale(0.833,1)" font-size="5.38" text-anchor="start" fill="#000">chronos_order</text>
<rect x="237.60" y="244.20" width="7.80" height="8.00" fill="#F2F2F2"/>
<line x1="237.90" y1="248.20" x2="245.10" y2="248.20" stroke="#78AC00" stroke-width="1.5" stroke-dasharray="3.5 3"/>
<text transform="translate(247.50,250.21) scale(0.833,1)" font-size="5.38" text-anchor="start" fill="#000">chronos_app</text>
<rect x="274.20" y="244.20" width="7.80" height="8.00" fill="#F2F2F2"/>
<line x1="274.50" y1="248.20" x2="281.70" y2="248.20" stroke="#00BDC2" stroke-width="1.5" stroke-dasharray="6.5 3.3"/>
<text transform="translate(283.90,250.21) scale(0.833,1)" font-size="5.38" text-anchor="start" fill="#000">DFT</text>
<rect x="294.20" y="244.20" width="7.80" height="8.00" fill="#F2F2F2"/>
<line x1="294.50" y1="248.20" x2="301.70" y2="248.20" stroke="#C476FF" stroke-width="1.5" stroke-dasharray="6 6.5"/>
<text transform="translate(303.00,250.21) scale(0.833,1)" font-size="5.38" text-anchor="start" fill="#000">sample</text>
<rect x="338.00" y="262.00" width="139.50" height="95.00" fill="#EBEBEB"/>
<line x1="344.25" y1="262.00" x2="344.25" y2="357.00" stroke="#FFFFFF" stroke-opacity="0.75" stroke-width="0.9"/>
<line x1="380.75" y1="262.00" x2="380.75" y2="357.00" stroke="#FFFFFF" stroke-opacity="0.75" stroke-width="0.9"/>
<line x1="417.25" y1="262.00" x2="417.25" y2="357.00" stroke="#FFFFFF" stroke-opacity="0.75" stroke-width="0.9"/>
<line x1="453.75" y1="262.00" x2="453.75" y2="357.00" stroke="#FFFFFF" stroke-opacity="0.75" stroke-width="0.9"/>
<line x1="338.00" y1="341.29" x2="477.50" y2="341.29" stroke="#FFFFFF" stroke-opacity="0.75" stroke-width="0.9"/>
<line x1="338.00" y1="317.88" x2="477.50" y2="317.88" stroke="#FFFFFF" stroke-opacity="0.75" stroke-width="0.9"/>
<line x1="338.00" y1="294.46" x2="477.50" y2="294.46" stroke="#FFFFFF" stroke-opacity="0.75" stroke-width="0.9"/>
<line x1="338.00" y1="271.04" x2="477.50" y2="271.04" stroke="#FFFFFF" stroke-opacity="0.75" stroke-width="0.9"/>
<line x1="362.50" y1="262.00" x2="362.50" y2="357.00" stroke="#FFFFFF" stroke-opacity="0.85" stroke-width="1.0"/>
<line x1="399.00" y1="262.00" x2="399.00" y2="357.00" stroke="#FFFFFF" stroke-opacity="0.85" stroke-width="1.0"/>
<line x1="435.50" y1="262.00" x2="435.50" y2="357.00" stroke="#FFFFFF" stroke-opacity="0.85" stroke-width="1.0"/>
<line x1="472.00" y1="262.00" x2="472.00" y2="357.00" stroke="#FFFFFF" stroke-opacity="0.85" stroke-width="1.0"/>
<line x1="338.00" y1="353.00" x2="477.50" y2="353.00" stroke="#FFFFFF" stroke-opacity="0.85" stroke-width="1.0"/>
<line x1="338.00" y1="329.58" x2="477.50" y2="329.58" stroke="#FFFFFF" stroke-opacity="0.85" stroke-width="1.0"/>
<line x1="338.00" y1="306.17" x2="477.50" y2="306.17" stroke="#FFFFFF" stroke-opacity="0.85" stroke-width="1.0"/>
<line x1="338.00" y1="282.75" x2="477.50" y2="282.75" stroke="#FFFFFF" stroke-opacity="0.85" stroke-width="1.0"/>
<line x1="336.40" y1="353.00" x2="338.00" y2="353.00" stroke="#333333" stroke-width="0.8"/>
<text transform="translate(335.40,354.91) scale(0.847,1)" font-size="5.29" text-anchor="end" fill="#3A3A3A">0.0</text>
<line x1="336.40" y1="329.58" x2="338.00" y2="329.58" stroke="#333333" stroke-width="0.8"/>
<text transform="translate(335.40,331.50) scale(0.847,1)" font-size="5.29" text-anchor="end" fill="#3A3A3A">0.2</text>
<line x1="336.40" y1="306.17" x2="338.00" y2="306.17" stroke="#333333" stroke-width="0.8"/>
<text transform="translate(335.40,308.08) scale(0.847,1)" font-size="5.29" text-anchor="end" fill="#3A3A3A">0.4</text>
<line x1="336.40" y1="282.75" x2="338.00" y2="282.75" stroke="#333333" stroke-width="0.8"/>
<text transform="translate(335.40,284.66) scale(0.847,1)" font-size="5.29" text-anchor="end" fill="#3A3A3A">0.6</text>
<line x1="362.50" y1="357.00" x2="362.50" y2="358.60" stroke="#333333" stroke-width="0.8"/>
<text transform="translate(362.50,363.43) scale(0.847,1)" font-size="5.29" text-anchor="middle" fill="#3A3A3A">4</text>
<line x1="399.00" y1="357.00" x2="399.00" y2="358.60" stroke="#333333" stroke-width="0.8"/>
<text transform="translate(399.00,363.43) scale(0.847,1)" font-size="5.29" text-anchor="middle" fill="#3A3A3A">8</text>
<line x1="435.50" y1="357.00" x2="435.50" y2="358.60" stroke="#333333" stroke-width="0.8"/>
<text transform="translate(435.50,363.43) scale(0.847,1)" font-size="5.29" text-anchor="middle" fill="#3A3A3A">12</text>
<line x1="472.00" y1="357.00" x2="472.00" y2="358.60" stroke="#333333" stroke-width="0.8"/>
<text transform="translate(472.00,363.43) scale(0.847,1)" font-size="5.29" text-anchor="middle" fill="#3A3A3A">16</text>
<text transform="translate(407.75,370.00) scale(0.870,1)" font-size="6.21" text-anchor="middle" fill="#000">Embedding size m</text>
<text transform="translate(326.10,309.50) rotate(-90) scale(0.870,1)" font-size="6.21" text-anchor="middle" fill="#000">Precision @ 10</text>
<text x="338.00" y="238.00" font-size="6.48" fill="#000">Yoga k=10</text>
<svg x="338.00" y="262.00" width="139.50" height="95.00" viewBox="338.00 262.00 139.50 95.00" overflow="hidden">
<polyline points="344.25,350.66 362.50,336.61 399.00,303.82 472.00,275.73" fill="none" stroke="#F9625C" stroke-width="1.9" stroke-linejoin="round"/>
<polyline points="344.25,350.66 362.50,338.95 399.00,310.85 472.00,286.26" fill="none" stroke="#78AC00" stroke-width="1.9" stroke-dasharray="3.5 3" stroke-linejoin="round"/>
<polyline points="344.25,353.00 362.50,347.15 399.00,319.05 472.00,288.60" fill="none" stroke="#00BDC2" stroke-width="1.9" stroke-dasharray="6.5 3.3" stroke-linejoin="round"/>
<polyline points="344.25,350.66 362.50,328.41 399.00,290.95 472.00,266.36" fill="none" stroke="#C476FF" stroke-width="1.9" stroke-dasharray="6 6.5" stroke-linejoin="round"/>
<circle cx="344.25" cy="350.66" r="2.45" fill="#FFFFFF" stroke="#F9625C" stroke-width="0.85"/>
<circle cx="362.50" cy="336.61" r="2.45" fill="#FFFFFF" stroke="#F9625C" stroke-width="0.85"/>
<circle cx="399.00" cy="303.82" r="2.45" fill="#FFFFFF" stroke="#F9625C" stroke-width="0.85"/>
<circle cx="472.00" cy="275.73" r="2.45" fill="#FFFFFF" stroke="#F9625C" stroke-width="0.85"/>
<circle cx="344.25" cy="350.66" r="2.45" fill="#FFFFFF" stroke="#F9625C" stroke-width="0.85"/>
<circle cx="362.50" cy="338.95" r="2.45" fill="#FFFFFF" stroke="#F9625C" stroke-width="0.85"/>
<circle cx="399.00" cy="310.85" r="2.45" fill="#FFFFFF" stroke="#F9625C" stroke-width="0.85"/>
<circle cx="472.00" cy="286.26" r="2.45" fill="#FFFFFF" stroke="#F9625C" stroke-width="0.85"/>
<circle cx="344.25" cy="353.00" r="2.45" fill="#FFFFFF" stroke="#F9625C" stroke-width="0.85"/>
<circle cx="362.50" cy="347.15" r="2.45" fill="#FFFFFF" stroke="#F9625C" stroke-width="0.85"/>
<circle cx="399.00" cy="319.05" r="2.45" fill="#FFFFFF" stroke="#F9625C" stroke-width="0.85"/>
<circle cx="472.00" cy="288.60" r="2.45" fill="#FFFFFF" stroke="#F9625C" stroke-width="0.85"/>
<circle cx="344.25" cy="350.66" r="2.45" fill="#FFFFFF" stroke="#F9625C" stroke-width="0.85"/>
<circle cx="362.50" cy="328.41" r="2.45" fill="#FFFFFF" stroke="#F9625C" stroke-width="0.85"/>
<circle cx="399.00" cy="290.95" r="2.45" fill="#FFFFFF" stroke="#F9625C" stroke-width="0.85"/>
<circle cx="472.00" cy="266.36" r="2.45" fill="#FFFFFF" stroke="#F9625C" stroke-width="0.85"/>
</svg>
<text transform="translate(337.90,251.74) scale(0.833,1)" font-size="6.48" text-anchor="start" fill="#000">variable</text>
<rect x="359.30" y="245.40" width="7.80" height="8.00" fill="#F2F2F2"/>
<line x1="359.60" y1="249.40" x2="366.80" y2="249.40" stroke="#F9625C" stroke-width="1.5"/>
<text transform="translate(368.30,251.41) scale(0.833,1)" font-size="5.38" text-anchor="start" fill="#000">chronos_order</text>
<rect x="398.60" y="245.40" width="7.80" height="8.00" fill="#F2F2F2"/>
<line x1="398.90" y1="249.40" x2="406.10" y2="249.40" stroke="#78AC00" stroke-width="1.5" stroke-dasharray="3.5 3"/>
<text transform="translate(408.50,251.41) scale(0.833,1)" font-size="5.38" text-anchor="start" fill="#000">chronos_app</text>
<rect x="435.20" y="245.40" width="7.80" height="8.00" fill="#F2F2F2"/>
<line x1="435.50" y1="249.40" x2="442.70" y2="249.40" stroke="#00BDC2" stroke-width="1.5" stroke-dasharray="6.5 3.3"/>
<text transform="translate(444.90,251.41) scale(0.833,1)" font-size="5.38" text-anchor="start" fill="#000">DFT</text>
<rect x="455.20" y="245.40" width="7.80" height="8.00" fill="#F2F2F2"/>
<line x1="455.50" y1="249.40" x2="462.70" y2="249.40" stroke="#C476FF" stroke-width="1.5" stroke-dasharray="6 6.5"/>
<text transform="translate(464.00,251.41) scale(0.833,1)" font-size="5.38" text-anchor="start" fill="#000">sample</text>
<rect x="499.00" y="260.75" width="139.75" height="96.75" fill="#EBEBEB"/>
<line x1="505.62" y1="260.75" x2="505.62" y2="357.50" stroke="#FFFFFF" stroke-opacity="0.75" stroke-width="0.9"/>
<line x1="541.88" y1="260.75" x2="541.88" y2="357.50" stroke="#FFFFFF" stroke-opacity="0.75" stroke-width="0.9"/>
<line x1="578.12" y1="260.75" x2="578.12" y2="357.50" stroke="#FFFFFF" stroke-opacity="0.75" stroke-width="0.9"/>
<line x1="614.38" y1="260.75" x2="614.38" y2="357.50" stroke="#FFFFFF" stroke-opacity="0.75" stroke-width="0.9"/>
<line x1="499.00" y1="337.06" x2="638.75" y2="337.06" stroke="#FFFFFF" stroke-opacity="0.75" stroke-width="0.9"/>
<line x1="499.00" y1="305.19" x2="638.75" y2="305.19" stroke="#FFFFFF" stroke-opacity="0.75" stroke-width="0.9"/>
<line x1="499.00" y1="273.31" x2="638.75" y2="273.31" stroke="#FFFFFF" stroke-opacity="0.75" stroke-width="0.9"/>
<line x1="523.75" y1="260.75" x2="523.75" y2="357.50" stroke="#FFFFFF" stroke-opacity="0.85" stroke-width="1.0"/>
<line x1="560.00" y1="260.75" x2="560.00" y2="357.50" stroke="#FFFFFF" stroke-opacity="0.85" stroke-width="1.0"/>
<line x1="596.25" y1="260.75" x2="596.25" y2="357.50" stroke="#FFFFFF" stroke-opacity="0.85" stroke-width="1.0"/>
<line x1="632.50" y1="260.75" x2="632.50" y2="357.50" stroke="#FFFFFF" stroke-opacity="0.85" stroke-width="1.0"/>
<line x1="499.00" y1="353.00" x2="638.75" y2="353.00" stroke="#FFFFFF" stroke-opacity="0.85" stroke-width="1.0"/>
<line x1="499.00" y1="321.12" x2="638.75" y2="321.12" stroke="#FFFFFF" stroke-opacity="0.85" stroke-width="1.0"/>
<line x1="499.00" y1="289.25" x2="638.75" y2="289.25" stroke="#FFFFFF" stroke-opacity="0.85" stroke-width="1.0"/>
<line x1="497.40" y1="353.00" x2="499.00" y2="353.00" stroke="#333333" stroke-width="0.8"/>
<text transform="translate(496.40,354.91) scale(0.847,1)" font-size="5.29" text-anchor="end" fill="#3A3A3A">0.0</text>
<line x1="497.40" y1="321.12" x2="499.00" y2="321.12" stroke="#333333" stroke-width="0.8"/>
<text transform="translate(496.40,323.04) scale(0.847,1)" font-size="5.29" text-anchor="end" fill="#3A3A3A">0.2</text>
<line x1="497.40" y1="289.25" x2="499.00" y2="289.25" stroke="#333333" stroke-width="0.8"/>
<text transform="translate(496.40,291.16) scale(0.847,1)" font-size="5.29" text-anchor="end" fill="#3A3A3A">0.4</text>
<line x1="523.75" y1="357.50" x2="523.75" y2="359.10" stroke="#333333" stroke-width="0.8"/>
<text transform="translate(523.75,363.93) scale(0.847,1)" font-size="5.29" text-anchor="middle" fill="#3A3A3A">4</text>
<line x1="560.00" y1="357.50" x2="560.00" y2="359.10" stroke="#333333" stroke-width="0.8"/>
<text transform="translate(560.00,363.93) scale(0.847,1)" font-size="5.29" text-anchor="middle" fill="#3A3A3A">8</text>
<line x1="596.25" y1="357.50" x2="596.25" y2="359.10" stroke="#333333" stroke-width="0.8"/>
<text transform="translate(596.25,363.93) scale(0.847,1)" font-size="5.29" text-anchor="middle" fill="#3A3A3A">12</text>
<line x1="632.50" y1="357.50" x2="632.50" y2="359.10" stroke="#333333" stroke-width="0.8"/>
<text transform="translate(632.50,363.93) scale(0.847,1)" font-size="5.29" text-anchor="middle" fill="#3A3A3A">16</text>
<text transform="translate(568.88,370.00) scale(0.870,1)" font-size="6.21" text-anchor="middle" fill="#000">Embedding size m</text>
<text transform="translate(486.10,309.12) rotate(-90) scale(0.870,1)" font-size="6.21" text-anchor="middle" fill="#000">Precision @ 10</text>
<text x="499.00" y="238.00" font-size="6.48" fill="#000">Stock indices k=10</text>
<svg x="499.00" y="260.75" width="139.75" height="96.75" viewBox="499.00 260.75 139.75 96.75" overflow="hidden">
<polyline points="505.62,351.41 523.75,343.44 560.00,305.19 632.50,265.34" fill="none" stroke="#F9625C" stroke-width="1.9" stroke-linejoin="round"/>
<polyline points="505.62,353.00 523.75,345.03 560.00,324.31 632.50,286.06" fill="none" stroke="#78AC00" stroke-width="1.9" stroke-dasharray="3.5 3" stroke-linejoin="round"/>
<polyline points="505.62,353.00 523.75,346.62 560.00,316.34 632.50,270.12" fill="none" stroke="#00BDC2" stroke-width="1.9" stroke-dasharray="6.5 3.3" stroke-linejoin="round"/>
<polyline points="505.62,353.00 523.75,348.22 560.00,335.47 632.50,319.53" fill="none" stroke="#C476FF" stroke-width="1.9" stroke-dasharray="6 6.5" stroke-linejoin="round"/>
<circle cx="505.62" cy="351.41" r="2.45" fill="#FFFFFF" stroke="#F9625C" stroke-width="0.85"/>
<circle cx="523.75" cy="343.44" r="2.45" fill="#FFFFFF" stroke="#F9625C" stroke-width="0.85"/>
<circle cx="560.00" cy="305.19" r="2.45" fill="#FFFFFF" stroke="#F9625C" stroke-width="0.85"/>
<circle cx="632.50" cy="265.34" r="2.45" fill="#FFFFFF" stroke="#F9625C" stroke-width="0.85"/>
<circle cx="505.62" cy="353.00" r="2.45" fill="#FFFFFF" stroke="#F9625C" stroke-width="0.85"/>
<circle cx="523.75" cy="345.03" r="2.45" fill="#FFFFFF" stroke="#F9625C" stroke-width="0.85"/>
<circle cx="560.00" cy="324.31" r="2.45" fill="#FFFFFF" stroke="#F9625C" stroke-width="0.85"/>
<circle cx="632.50" cy="286.06" r="2.45" fill="#FFFFFF" stroke="#F9625C" stroke-width="0.85"/>
<circle cx="505.62" cy="353.00" r="2.45" fill="#FFFFFF" stroke="#F9625C" stroke-width="0.85"/>
<circle cx="523.75" cy="346.62" r="2.45" fill="#FFFFFF" stroke="#F9625C" stroke-width="0.85"/>
<circle cx="560.00" cy="316.34" r="2.45" fill="#FFFFFF" stroke="#F9625C" stroke-width="0.85"/>
<circle cx="632.50" cy="270.12" r="2.45" fill="#FFFFFF" stroke="#F9625C" stroke-width="0.85"/>
<circle cx="505.62" cy="353.00" r="2.45" fill="#FFFFFF" stroke="#F9625C" stroke-width="0.85"/>
<circle cx="523.75" cy="348.22" r="2.45" fill="#FFFFFF" stroke="#F9625C" stroke-width="0.85"/>
<circle cx="560.00" cy="335.47" r="2.45" fill="#FFFFFF" stroke="#F9625C" stroke-width="0.85"/>
<circle cx="632.50" cy="319.53" r="2.45" fill="#FFFFFF" stroke="#F9625C" stroke-width="0.85"/>
</svg>
<text transform="translate(498.90,250.54) scale(0.833,1)" font-size="6.48" text-anchor="start" fill="#000">variable</text>
<rect x="520.30" y="244.20" width="7.80" height="8.00" fill="#F2F2F2"/>
<line x1="520.60" y1="248.20" x2="527.80" y2="248.20" stroke="#F9625C" stroke-width="1.5"/>
<text transform="translate(529.30,250.21) scale(0.833,1)" font-size="5.38" text-anchor="start" fill="#000">chronos_order</text>
<rect x="559.60" y="244.20" width="7.80" height="8.00" fill="#F2F2F2"/>
<line x1="559.90" y1="248.20" x2="567.10" y2="248.20" stroke="#78AC00" stroke-width="1.5" stroke-dasharray="3.5 3"/>
<text transform="translate(569.50,250.21) scale(0.833,1)" font-size="5.38" text-anchor="start" fill="#000">chronos_app</text>
<rect x="596.20" y="244.20" width="7.80" height="8.00" fill="#F2F2F2"/>
<line x1="596.50" y1="248.20" x2="603.70" y2="248.20" stroke="#00BDC2" stroke-width="1.5" stroke-dasharray="6.5 3.3"/>
<text transform="translate(605.90,250.21) scale(0.833,1)" font-size="5.38" text-anchor="start" fill="#000">DFT</text>
<rect x="616.20" y="244.20" width="7.80" height="8.00" fill="#F2F2F2"/>
<line x1="616.50" y1="248.20" x2="623.70" y2="248.20" stroke="#C476FF" stroke-width="1.5" stroke-dasharray="6 6.5"/>
<text transform="translate(625.00,250.21) scale(0.833,1)" font-size="5.38" text-anchor="start" fill="#000">sample</text>
<rect x="16.00" y="404.50" width="140.00" height="96.75" fill="#EBEBEB"/>
<line x1="22.33" y1="404.50" x2="22.33" y2="501.25" stroke="#FFFFFF" stroke-opacity="0.75" stroke-width="0.9"/>
<line x1="58.67" y1="404.50" x2="58.67" y2="501.25" stroke="#FFFFFF" stroke-opacity="0.75" stroke-width="0.9"/>
<line x1="95.00" y1="404.50" x2="95.00" y2="501.25" stroke="#FFFFFF" stroke-opacity="0.75" stroke-width="0.9"/>
<line x1="131.33" y1="404.50" x2="131.33" y2="501.25" stroke="#FFFFFF" stroke-opacity="0.75" stroke-width="0.9"/>
<line x1="16.00" y1="485.12" x2="156.00" y2="485.12" stroke="#FFFFFF" stroke-opacity="0.75" stroke-width="0.9"/>
<line x1="16.00" y1="462.88" x2="156.00" y2="462.88" stroke="#FFFFFF" stroke-opacity="0.75" stroke-width="0.9"/>
<line x1="16.00" y1="440.62" x2="156.00" y2="440.62" stroke="#FFFFFF" stroke-opacity="0.75" stroke-width="0.9"/>
<line x1="16.00" y1="418.38" x2="156.00" y2="418.38" stroke="#FFFFFF" stroke-opacity="0.75" stroke-width="0.9"/>
<line x1="40.50" y1="404.50" x2="40.50" y2="501.25" stroke="#FFFFFF" stroke-opacity="0.85" stroke-width="1.0"/>
<line x1="76.83" y1="404.50" x2="76.83" y2="501.25" stroke="#FFFFFF" stroke-opacity="0.85" stroke-width="1.0"/>
<line x1="113.17" y1="404.50" x2="113.17" y2="501.25" stroke="#FFFFFF" stroke-opacity="0.85" stroke-width="1.0"/>
<line x1="149.50" y1="404.50" x2="149.50" y2="501.25" stroke="#FFFFFF" stroke-opacity="0.85" stroke-width="1.0"/>
<line x1="16.00" y1="496.25" x2="156.00" y2="496.25" stroke="#FFFFFF" stroke-opacity="0.85" stroke-width="1.0"/>
<line x1="16.00" y1="474.00" x2="156.00" y2="474.00" stroke="#FFFFFF" stroke-opacity="0.85" stroke-width="1.0"/>
<line x1="16.00" y1="451.75" x2="156.00" y2="451.75" stroke="#FFFFFF" stroke-opacity="0.85" stroke-width="1.0"/>
<line x1="16.00" y1="429.50" x2="156.00" y2="429.50" stroke="#FFFFFF" stroke-opacity="0.85" stroke-width="1.0"/>
<line x1="16.00" y1="407.25" x2="156.00" y2="407.25" stroke="#FFFFFF" stroke-opacity="0.85" stroke-width="1.0"/>
<line x1="14.40" y1="496.25" x2="16.00" y2="496.25" stroke="#333333" stroke-width="0.8"/>
<text transform="translate(13.40,498.16) scale(0.847,1)" font-size="5.29" text-anchor="end" fill="#3A3A3A">0.0</text>
<line x1="14.40" y1="474.00" x2="16.00" y2="474.00" stroke="#333333" stroke-width="0.8"/>
<text transform="translate(13.40,475.91) scale(0.847,1)" font-size="5.29" text-anchor="end" fill="#3A3A3A">0.2</text>
<line x1="14.40" y1="451.75" x2="16.00" y2="451.75" stroke="#333333" stroke-width="0.8"/>
<text transform="translate(13.40,453.66) scale(0.847,1)" font-size="5.29" text-anchor="end" fill="#3A3A3A">0.4</text>
<line x1="14.40" y1="429.50" x2="16.00" y2="429.50" stroke="#333333" stroke-width="0.8"/>
<text transform="translate(13.40,431.41) scale(0.847,1)" font-size="5.29" text-anchor="end" fill="#3A3A3A">0.6</text>
<line x1="14.40" y1="407.25" x2="16.00" y2="407.25" stroke="#333333" stroke-width="0.8"/>
<text transform="translate(13.40,409.16) scale(0.847,1)" font-size="5.29" text-anchor="end" fill="#3A3A3A">0.8</text>
<line x1="40.50" y1="501.25" x2="40.50" y2="502.85" stroke="#333333" stroke-width="0.8"/>
<text transform="translate(40.50,507.68) scale(0.847,1)" font-size="5.29" text-anchor="middle" fill="#3A3A3A">4</text>
<line x1="76.83" y1="501.25" x2="76.83" y2="502.85" stroke="#333333" stroke-width="0.8"/>
<text transform="translate(76.83,507.68) scale(0.847,1)" font-size="5.29" text-anchor="middle" fill="#3A3A3A">8</text>
<line x1="113.17" y1="501.25" x2="113.17" y2="502.85" stroke="#333333" stroke-width="0.8"/>
<text transform="translate(113.17,507.68) scale(0.847,1)" font-size="5.29" text-anchor="middle" fill="#3A3A3A">12</text>
<line x1="149.50" y1="501.25" x2="149.50" y2="502.85" stroke="#333333" stroke-width="0.8"/>
<text transform="translate(149.50,507.68) scale(0.847,1)" font-size="5.29" text-anchor="middle" fill="#3A3A3A">16</text>
<text transform="translate(86.00,513.30) scale(0.870,1)" font-size="6.21" text-anchor="middle" fill="#000">Embedding size m</text>
<text transform="translate(4.60,452.88) rotate(-90) scale(0.870,1)" font-size="6.21" text-anchor="middle" fill="#000">Precision @ 50</text>
<text x="16.00" y="381.30" font-size="6.48" fill="#000">Star Light Curve k=50</text>
<svg x="16.00" y="404.50" width="140.00" height="96.75" viewBox="16.00 404.50 140.00 96.75" overflow="hidden">
<polyline points="22.33,495.14 40.50,475.11 76.83,440.62 149.50,409.48" fill="none" stroke="#F9625C" stroke-width="1.9" stroke-linejoin="round"/>
<polyline points="22.33,494.02 40.50,457.31 76.83,426.16 149.50,415.04" fill="none" stroke="#78AC00" stroke-width="1.9" stroke-dasharray="3.5 3" stroke-linejoin="round"/>
<polyline points="22.33,496.25 40.50,478.45 76.83,438.40 149.50,409.48" fill="none" stroke="#00BDC2" stroke-width="1.9" stroke-dasharray="6.5 3.3" stroke-linejoin="round"/>
<polyline points="22.33,495.14 40.50,482.90 76.83,463.99 149.50,428.39" fill="none" stroke="#C476FF" stroke-width="1.9" stroke-dasharray="6 6.5" stroke-linejoin="round"/>
<circle cx="22.33" cy="495.14" r="2.45" fill="#FFFFFF" stroke="#F9625C" stroke-width="0.85"/>
<circle cx="40.50" cy="475.11" r="2.45" fill="#FFFFFF" stroke="#F9625C" stroke-width="0.85"/>
<circle cx="76.83" cy="440.62" r="2.45" fill="#FFFFFF" stroke="#F9625C" stroke-width="0.85"/>
<circle cx="149.50" cy="409.48" r="2.45" fill="#FFFFFF" stroke="#F9625C" stroke-width="0.85"/>
<circle cx="22.33" cy="494.02" r="2.45" fill="#FFFFFF" stroke="#F9625C" stroke-width="0.85"/>
<circle cx="40.50" cy="457.31" r="2.45" fill="#FFFFFF" stroke="#F9625C" stroke-width="0.85"/>
<circle cx="76.83" cy="426.16" r="2.45" fill="#FFFFFF" stroke="#F9625C" stroke-width="0.85"/>
<circle cx="149.50" cy="415.04" r="2.45" fill="#FFFFFF" stroke="#F9625C" stroke-width="0.85"/>
<circle cx="22.33" cy="496.25" r="2.45" fill="#FFFFFF" stroke="#F9625C" stroke-width="0.85"/>
<circle cx="40.50" cy="478.45" r="2.45" fill="#FFFFFF" stroke="#F9625C" stroke-width="0.85"/>
<circle cx="76.83" cy="438.40" r="2.45" fill="#FFFFFF" stroke="#F9625C" stroke-width="0.85"/>
<circle cx="149.50" cy="409.48" r="2.45" fill="#FFFFFF" stroke="#F9625C" stroke-width="0.85"/>
<circle cx="22.33" cy="495.14" r="2.45" fill="#FFFFFF" stroke="#F9625C" stroke-width="0.85"/>
<circle cx="40.50" cy="482.90" r="2.45" fill="#FFFFFF" stroke="#F9625C" stroke-width="0.85"/>
<circle cx="76.83" cy="463.99" r="2.45" fill="#FFFFFF" stroke="#F9625C" stroke-width="0.85"/>
<circle cx="149.50" cy="428.39" r="2.45" fill="#FFFFFF" stroke="#F9625C" stroke-width="0.85"/>
</svg>
<text transform="translate(15.90,394.94) scale(0.833,1)" font-size="6.48" text-anchor="start" fill="#000">variable</text>
<rect x="37.30" y="388.60" width="7.80" height="8.00" fill="#F2F2F2"/>
<line x1="37.60" y1="392.60" x2="44.80" y2="392.60" stroke="#F9625C" stroke-width="1.5"/>
<text transform="translate(46.30,394.61) scale(0.833,1)" font-size="5.38" text-anchor="start" fill="#000">chronos_order</text>
<rect x="76.60" y="388.60" width="7.80" height="8.00" fill="#F2F2F2"/>
<line x1="76.90" y1="392.60" x2="84.10" y2="392.60" stroke="#78AC00" stroke-width="1.5" stroke-dasharray="3.5 3"/>
<text transform="translate(86.50,394.61) scale(0.833,1)" font-size="5.38" text-anchor="start" fill="#000">chronos_app</text>
<rect x="113.20" y="388.60" width="7.80" height="8.00" fill="#F2F2F2"/>
<line x1="113.50" y1="392.60" x2="120.70" y2="392.60" stroke="#00BDC2" stroke-width="1.5" stroke-dasharray="6.5 3.3"/>
<text transform="translate(122.90,394.61) scale(0.833,1)" font-size="5.38" text-anchor="start" fill="#000">DFT</text>
<rect x="133.20" y="388.60" width="7.80" height="8.00" fill="#F2F2F2"/>
<line x1="133.50" y1="392.60" x2="140.70" y2="392.60" stroke="#C476FF" stroke-width="1.5" stroke-dasharray="6 6.5"/>
<text transform="translate(142.00,394.61) scale(0.833,1)" font-size="5.38" text-anchor="start" fill="#000">sample</text>
<rect x="177.50" y="403.25" width="138.75" height="97.25" fill="#EBEBEB"/>
<line x1="183.29" y1="403.25" x2="183.29" y2="500.50" stroke="#FFFFFF" stroke-opacity="0.75" stroke-width="0.9"/>
<line x1="219.71" y1="403.25" x2="219.71" y2="500.50" stroke="#FFFFFF" stroke-opacity="0.75" stroke-width="0.9"/>
<line x1="256.12" y1="403.25" x2="256.12" y2="500.50" stroke="#FFFFFF" stroke-opacity="0.75" stroke-width="0.9"/>
<line x1="292.54" y1="403.25" x2="292.54" y2="500.50" stroke="#FFFFFF" stroke-opacity="0.75" stroke-width="0.9"/>
<line x1="177.50" y1="485.94" x2="316.25" y2="485.94" stroke="#FFFFFF" stroke-opacity="0.75" stroke-width="0.9"/>
<line x1="177.50" y1="463.81" x2="316.25" y2="463.81" stroke="#FFFFFF" stroke-opacity="0.75" stroke-width="0.9"/>
<line x1="177.50" y1="441.69" x2="316.25" y2="441.69" stroke="#FFFFFF" stroke-opacity="0.75" stroke-width="0.9"/>
<line x1="177.50" y1="419.56" x2="316.25" y2="419.56" stroke="#FFFFFF" stroke-opacity="0.75" stroke-width="0.9"/>
<line x1="201.50" y1="403.25" x2="201.50" y2="500.50" stroke="#FFFFFF" stroke-opacity="0.85" stroke-width="1.0"/>
<line x1="237.92" y1="403.25" x2="237.92" y2="500.50" stroke="#FFFFFF" stroke-opacity="0.85" stroke-width="1.0"/>
<line x1="274.33" y1="403.25" x2="274.33" y2="500.50" stroke="#FFFFFF" stroke-opacity="0.85" stroke-width="1.0"/>
<line x1="310.75" y1="403.25" x2="310.75" y2="500.50" stroke="#FFFFFF" stroke-opacity="0.85" stroke-width="1.0"/>
<line x1="177.50" y1="497.00" x2="316.25" y2="497.00" stroke="#FFFFFF" stroke-opacity="0.85" stroke-width="1.0"/>
<line x1="177.50" y1="474.88" x2="316.25" y2="474.88" stroke="#FFFFFF" stroke-opacity="0.85" stroke-width="1.0"/>
<line x1="177.50" y1="452.75" x2="316.25" y2="452.75" stroke="#FFFFFF" stroke-opacity="0.85" stroke-width="1.0"/>
<line x1="177.50" y1="430.62" x2="316.25" y2="430.62" stroke="#FFFFFF" stroke-opacity="0.85" stroke-width="1.0"/>
<line x1="177.50" y1="408.50" x2="316.25" y2="408.50" stroke="#FFFFFF" stroke-opacity="0.85" stroke-width="1.0"/>
<line x1="175.90" y1="497.00" x2="177.50" y2="497.00" stroke="#333333" stroke-width="0.8"/>
<text transform="translate(174.90,498.91) scale(0.847,1)" font-size="5.29" text-anchor="end" fill="#3A3A3A">0.0</text>
<line x1="175.90" y1="474.88" x2="177.50" y2="474.88" stroke="#333333" stroke-width="0.8"/>
<text transform="translate(174.90,476.79) scale(0.847,1)" font-size="5.29" text-anchor="end" fill="#3A3A3A">0.2</text>
<line x1="175.90" y1="452.75" x2="177.50" y2="452.75" stroke="#333333" stroke-width="0.8"/>
<text transform="translate(174.90,454.66) scale(0.847,1)" font-size="5.29" text-anchor="end" fill="#3A3A3A">0.4</text>
<line x1="175.90" y1="430.62" x2="177.50" y2="430.62" stroke="#333333" stroke-width="0.8"/>
<text transform="translate(174.90,432.54) scale(0.847,1)" font-size="5.29" text-anchor="end" fill="#3A3A3A">0.6</text>
<line x1="175.90" y1="408.50" x2="177.50" y2="408.50" stroke="#333333" stroke-width="0.8"/>
<text transform="translate(174.90,410.41) scale(0.847,1)" font-size="5.29" text-anchor="end" fill="#3A3A3A">0.8</text>
<line x1="201.50" y1="500.50" x2="201.50" y2="502.10" stroke="#333333" stroke-width="0.8"/>
<text transform="translate(201.50,506.93) scale(0.847,1)" font-size="5.29" text-anchor="middle" fill="#3A3A3A">4</text>
<line x1="237.92" y1="500.50" x2="237.92" y2="502.10" stroke="#333333" stroke-width="0.8"/>
<text transform="translate(237.92,506.93) scale(0.847,1)" font-size="5.29" text-anchor="middle" fill="#3A3A3A">8</text>
<line x1="274.33" y1="500.50" x2="274.33" y2="502.10" stroke="#333333" stroke-width="0.8"/>
<text transform="translate(274.33,506.93) scale(0.847,1)" font-size="5.29" text-anchor="middle" fill="#3A3A3A">12</text>
<line x1="310.75" y1="500.50" x2="310.75" y2="502.10" stroke="#333333" stroke-width="0.8"/>
<text transform="translate(310.75,506.93) scale(0.847,1)" font-size="5.29" text-anchor="middle" fill="#3A3A3A">16</text>
<text transform="translate(246.88,513.30) scale(0.870,1)" font-size="6.21" text-anchor="middle" fill="#000">Embedding size m</text>
<text transform="translate(165.10,451.88) rotate(-90) scale(0.870,1)" font-size="6.21" text-anchor="middle" fill="#000">Precision @ 50</text>
<text x="177.50" y="381.30" font-size="6.48" fill="#000">UWave Gesture k=50</text>
<svg x="177.50" y="403.25" width="138.75" height="97.25" viewBox="177.50 403.25 138.75 97.25" overflow="hidden">
<polyline points="183.29,490.36 201.50,463.81 237.92,430.62 310.75,408.50" fill="none" stroke="#F9625C" stroke-width="1.9" stroke-linejoin="round"/>
<polyline points="183.29,492.57 201.50,466.02 237.92,438.37 310.75,416.24" fill="none" stroke="#78AC00" stroke-width="1.9" stroke-dasharray="3.5 3" stroke-linejoin="round"/>
<polyline points="183.29,495.89 201.50,481.51 237.92,451.64 310.75,420.67" fill="none" stroke="#00BDC2" stroke-width="1.9" stroke-dasharray="6.5 3.3" stroke-linejoin="round"/>
<polyline points="183.29,495.89 201.50,483.73 237.92,453.86 310.75,431.73" fill="none" stroke="#C476FF" stroke-width="1.9" stroke-dasharray="6 6.5" stroke-linejoin="round"/>
<circle cx="183.29" cy="490.36" r="2.45" fill="#FFFFFF" stroke="#F9625C" stroke-width="0.85"/>
<circle cx="201.50" cy="463.81" r="2.45" fill="#FFFFFF" stroke="#F9625C" stroke-width="0.85"/>
<circle cx="237.92" cy="430.62" r="2.45" fill="#FFFFFF" stroke="#F9625C" stroke-width="0.85"/>
<circle cx="310.75" cy="408.50" r="2.45" fill="#FFFFFF" stroke="#F9625C" stroke-width="0.85"/>
<circle cx="183.29" cy="492.57" r="2.45" fill="#FFFFFF" stroke="#F9625C" stroke-width="0.85"/>
<circle cx="201.50" cy="466.02" r="2.45" fill="#FFFFFF" stroke="#F9625C" stroke-width="0.85"/>
<circle cx="237.92" cy="438.37" r="2.45" fill="#FFFFFF" stroke="#F9625C" stroke-width="0.85"/>
<circle cx="310.75" cy="416.24" r="2.45" fill="#FFFFFF" stroke="#F9625C" stroke-width="0.85"/>
<circle cx="183.29" cy="495.89" r="2.45" fill="#FFFFFF" stroke="#F9625C" stroke-width="0.85"/>
<circle cx="201.50" cy="481.51" r="2.45" fill="#FFFFFF" stroke="#F9625C" stroke-width="0.85"/>
<circle cx="237.92" cy="451.64" r="2.45" fill="#FFFFFF" stroke="#F9625C" stroke-width="0.85"/>
<circle cx="310.75" cy="420.67" r="2.45" fill="#FFFFFF" stroke="#F9625C" stroke-width="0.85"/>
<circle cx="183.29" cy="495.89" r="2.45" fill="#FFFFFF" stroke="#F9625C" stroke-width="0.85"/>
<circle cx="201.50" cy="483.73" r="2.45" fill="#FFFFFF" stroke="#F9625C" stroke-width="0.85"/>
<circle cx="237.92" cy="453.86" r="2.45" fill="#FFFFFF" stroke="#F9625C" stroke-width="0.85"/>
<circle cx="310.75" cy="431.73" r="2.45" fill="#FFFFFF" stroke="#F9625C" stroke-width="0.85"/>
</svg>
<text transform="translate(176.90,393.74) scale(0.833,1)" font-size="6.48" text-anchor="start" fill="#000">variable</text>
<rect x="198.30" y="387.40" width="7.80" height="8.00" fill="#F2F2F2"/>
<line x1="198.60" y1="391.40" x2="205.80" y2="391.40" stroke="#F9625C" stroke-width="1.5"/>
<text transform="translate(207.30,393.41) scale(0.833,1)" font-size="5.38" text-anchor="start" fill="#000">chronos_order</text>
<rect x="237.60" y="387.40" width="7.80" height="8.00" fill="#F2F2F2"/>
<line x1="237.90" y1="391.40" x2="245.10" y2="391.40" stroke="#78AC00" stroke-width="1.5" stroke-dasharray="3.5 3"/>
<text transform="translate(247.50,393.41) scale(0.833,1)" font-size="5.38" text-anchor="start" fill="#000">chronos_app</text>
<rect x="274.20" y="387.40" width="7.80" height="8.00" fill="#F2F2F2"/>
<line x1="274.50" y1="391.40" x2="281.70" y2="391.40" stroke="#00BDC2" stroke-width="1.5" stroke-dasharray="6.5 3.3"/>
<text transform="translate(283.90,393.41) scale(0.833,1)" font-size="5.38" text-anchor="start" fill="#000">DFT</text>
<rect x="294.20" y="387.40" width="7.80" height="8.00" fill="#F2F2F2"/>
<line x1="294.50" y1="391.40" x2="301.70" y2="391.40" stroke="#C476FF" stroke-width="1.5" stroke-dasharray="6 6.5"/>
<text transform="translate(303.00,393.41) scale(0.833,1)" font-size="5.38" text-anchor="start" fill="#000">sample</text>
<rect x="340.50" y="405.00" width="137.50" height="96.25" fill="#EBEBEB"/>
<line x1="346.50" y1="405.00" x2="346.50" y2="501.25" stroke="#FFFFFF" stroke-opacity="0.75" stroke-width="0.9"/>
<line x1="382.50" y1="405.00" x2="382.50" y2="501.25" stroke="#FFFFFF" stroke-opacity="0.75" stroke-width="0.9"/>
<line x1="418.50" y1="405.00" x2="418.50" y2="501.25" stroke="#FFFFFF" stroke-opacity="0.75" stroke-width="0.9"/>
<line x1="454.50" y1="405.00" x2="454.50" y2="501.25" stroke="#FFFFFF" stroke-opacity="0.75" stroke-width="0.9"/>
<line x1="340.50" y1="484.42" x2="478.00" y2="484.42" stroke="#FFFFFF" stroke-opacity="0.75" stroke-width="0.9"/>
<line x1="340.50" y1="459.25" x2="478.00" y2="459.25" stroke="#FFFFFF" stroke-opacity="0.75" stroke-width="0.9"/>
<line x1="340.50" y1="434.08" x2="478.00" y2="434.08" stroke="#FFFFFF" stroke-opacity="0.75" stroke-width="0.9"/>
<line x1="340.50" y1="408.92" x2="478.00" y2="408.92" stroke="#FFFFFF" stroke-opacity="0.75" stroke-width="0.9"/>
<line x1="364.50" y1="405.00" x2="364.50" y2="501.25" stroke="#FFFFFF" stroke-opacity="0.85" stroke-width="1.0"/>
<line x1="400.50" y1="405.00" x2="400.50" y2="501.25" stroke="#FFFFFF" stroke-opacity="0.85" stroke-width="1.0"/>
<line x1="436.50" y1="405.00" x2="436.50" y2="501.25" stroke="#FFFFFF" stroke-opacity="0.85" stroke-width="1.0"/>
<line x1="472.50" y1="405.00" x2="472.50" y2="501.25" stroke="#FFFFFF" stroke-opacity="0.85" stroke-width="1.0"/>
<line x1="340.50" y1="497.00" x2="478.00" y2="497.00" stroke="#FFFFFF" stroke-opacity="0.85" stroke-width="1.0"/>
<line x1="340.50" y1="471.83" x2="478.00" y2="471.83" stroke="#FFFFFF" stroke-opacity="0.85" stroke-width="1.0"/>
<line x1="340.50" y1="446.67" x2="478.00" y2="446.67" stroke="#FFFFFF" stroke-opacity="0.85" stroke-width="1.0"/>
<line x1="340.50" y1="421.50" x2="478.00" y2="421.50" stroke="#FFFFFF" stroke-opacity="0.85" stroke-width="1.0"/>
<line x1="338.90" y1="497.00" x2="340.50" y2="497.00" stroke="#333333" stroke-width="0.8"/>
<text transform="translate(337.90,498.91) scale(0.847,1)" font-size="5.29" text-anchor="end" fill="#3A3A3A">0.00</text>
<line x1="338.90" y1="471.83" x2="340.50" y2="471.83" stroke="#333333" stroke-width="0.8"/>
<text transform="translate(337.90,473.75) scale(0.847,1)" font-size="5.29" text-anchor="end" fill="#3A3A3A">0.25</text>
<line x1="338.90" y1="446.67" x2="340.50" y2="446.67" stroke="#333333" stroke-width="0.8"/>
<text transform="translate(337.90,448.58) scale(0.847,1)" font-size="5.29" text-anchor="end" fill="#3A3A3A">0.50</text>
<line x1="338.90" y1="421.50" x2="340.50" y2="421.50" stroke="#333333" stroke-width="0.8"/>
<text transform="translate(337.90,423.41) scale(0.847,1)" font-size="5.29" text-anchor="end" fill="#3A3A3A">0.75</text>
<line x1="364.50" y1="501.25" x2="364.50" y2="502.85" stroke="#333333" stroke-width="0.8"/>
<text transform="translate(364.50,507.68) scale(0.847,1)" font-size="5.29" text-anchor="middle" fill="#3A3A3A">4</text>
<line x1="400.50" y1="501.25" x2="400.50" y2="502.85" stroke="#333333" stroke-width="0.8"/>
<text transform="translate(400.50,507.68) scale(0.847,1)" font-size="5.29" text-anchor="middle" fill="#3A3A3A">8</text>
<line x1="436.50" y1="501.25" x2="436.50" y2="502.85" stroke="#333333" stroke-width="0.8"/>
<text transform="translate(436.50,507.68) scale(0.847,1)" font-size="5.29" text-anchor="middle" fill="#3A3A3A">12</text>
<line x1="472.50" y1="501.25" x2="472.50" y2="502.85" stroke="#333333" stroke-width="0.8"/>
<text transform="translate(472.50,507.68) scale(0.847,1)" font-size="5.29" text-anchor="middle" fill="#3A3A3A">16</text>
<text transform="translate(409.25,513.30) scale(0.870,1)" font-size="6.21" text-anchor="middle" fill="#000">Embedding size m</text>
<text transform="translate(326.10,453.12) rotate(-90) scale(0.870,1)" font-size="6.21" text-anchor="middle" fill="#000">Precision @ 50</text>
<text x="340.50" y="381.30" font-size="6.48" fill="#000">Yoga k=50</text>
<svg x="340.50" y="405.00" width="137.50" height="96.25" viewBox="340.50 405.00 137.50 96.25" overflow="hidden">
<polyline points="346.50,490.96 364.50,466.80 400.50,436.60 472.50,416.47" fill="none" stroke="#F9625C" stroke-width="1.9" stroke-linejoin="round"/>
<polyline points="346.50,490.96 364.50,468.81 400.50,443.65 472.50,423.51" fill="none" stroke="#78AC00" stroke-width="1.9" stroke-dasharray="3.5 3" stroke-linejoin="round"/>
<polyline points="346.50,495.99 364.50,482.91 400.50,455.73 472.50,427.54" fill="none" stroke="#00BDC2" stroke-width="1.9" stroke-dasharray="6.5 3.3" stroke-linejoin="round"/>
<polyline points="346.50,486.93 364.50,456.73 400.50,427.54 472.50,409.42" fill="none" stroke="#C476FF" stroke-width="1.9" stroke-dasharray="6 6.5" stroke-linejoin="round"/>
<circle cx="346.50" cy="490.96" r="2.45" fill="#FFFFFF" stroke="#F9625C" stroke-width="0.85"/>
<circle cx="364.50" cy="466.80" r="2.45" fill="#FFFFFF" stroke="#F9625C" stroke-width="0.85"/>
<circle cx="400.50" cy="436.60" r="2.45" fill="#FFFFFF" stroke="#F9625C" stroke-width="0.85"/>
<circle cx="472.50" cy="416.47" r="2.45" fill="#FFFFFF" stroke="#F9625C" stroke-width="0.85"/>
<circle cx="346.50" cy="490.96" r="2.45" fill="#FFFFFF" stroke="#F9625C" stroke-width="0.85"/>
<circle cx="364.50" cy="468.81" r="2.45" fill="#FFFFFF" stroke="#F9625C" stroke-width="0.85"/>
<circle cx="400.50" cy="443.65" r="2.45" fill="#FFFFFF" stroke="#F9625C" stroke-width="0.85"/>
<circle cx="472.50" cy="423.51" r="2.45" fill="#FFFFFF" stroke="#F9625C" stroke-width="0.85"/>
<circle cx="346.50" cy="495.99" r="2.45" fill="#FFFFFF" stroke="#F9625C" stroke-width="0.85"/>
<circle cx="364.50" cy="482.91" r="2.45" fill="#FFFFFF" stroke="#F9625C" stroke-width="0.85"/>
<circle cx="400.50" cy="455.73" r="2.45" fill="#FFFFFF" stroke="#F9625C" stroke-width="0.85"/>
<circle cx="472.50" cy="427.54" r="2.45" fill="#FFFFFF" stroke="#F9625C" stroke-width="0.85"/>
<circle cx="346.50" cy="486.93" r="2.45" fill="#FFFFFF" stroke="#F9625C" stroke-width="0.85"/>
<circle cx="364.50" cy="456.73" r="2.45" fill="#FFFFFF" stroke="#F9625C" stroke-width="0.85"/>
<circle cx="400.50" cy="427.54" r="2.45" fill="#FFFFFF" stroke="#F9625C" stroke-width="0.85"/>
<circle cx="472.50" cy="409.42" r="2.45" fill="#FFFFFF" stroke="#F9625C" stroke-width="0.85"/>
</svg>
<text transform="translate(339.10,394.94) scale(0.833,1)" font-size="6.48" text-anchor="start" fill="#000">variable</text>
<rect x="360.50" y="388.60" width="7.80" height="8.00" fill="#F2F2F2"/>
<line x1="360.80" y1="392.60" x2="368.00" y2="392.60" stroke="#F9625C" stroke-width="1.5"/>
<text transform="translate(369.50,394.61) scale(0.833,1)" font-size="5.38" text-anchor="start" fill="#000">chronos_order</text>
<rect x="399.80" y="388.60" width="7.80" height="8.00" fill="#F2F2F2"/>
<line x1="400.10" y1="392.60" x2="407.30" y2="392.60" stroke="#78AC00" stroke-width="1.5" stroke-dasharray="3.5 3"/>
<text transform="translate(409.70,394.61) scale(0.833,1)" font-size="5.38" text-anchor="start" fill="#000">chronos_app</text>
<rect x="436.40" y="388.60" width="7.80" height="8.00" fill="#F2F2F2"/>
<line x1="436.70" y1="392.60" x2="443.90" y2="392.60" stroke="#00BDC2" stroke-width="1.5" stroke-dasharray="6.5 3.3"/>
<text transform="translate(446.10,394.61) scale(0.833,1)" font-size="5.38" text-anchor="start" fill="#000">DFT</text>
<rect x="456.40" y="388.60" width="7.80" height="8.00" fill="#F2F2F2"/>
<line x1="456.70" y1="392.60" x2="463.90" y2="392.60" stroke="#C476FF" stroke-width="1.5" stroke-dasharray="6 6.5"/>
<text transform="translate(465.20,394.61) scale(0.833,1)" font-size="5.38" text-anchor="start" fill="#000">sample</text>
<rect x="499.00" y="403.75" width="140.00" height="96.75" fill="#EBEBEB"/>
<line x1="505.58" y1="403.75" x2="505.58" y2="500.50" stroke="#FFFFFF" stroke-opacity="0.75" stroke-width="0.9"/>
<line x1="541.92" y1="403.75" x2="541.92" y2="500.50" stroke="#FFFFFF" stroke-opacity="0.75" stroke-width="0.9"/>
<line x1="578.25" y1="403.75" x2="578.25" y2="500.50" stroke="#FFFFFF" stroke-opacity="0.75" stroke-width="0.9"/>
<line x1="614.58" y1="403.75" x2="614.58" y2="500.50" stroke="#FFFFFF" stroke-opacity="0.75" stroke-width="0.9"/>
<line x1="499.00" y1="483.67" x2="639.00" y2="483.67" stroke="#FFFFFF" stroke-opacity="0.75" stroke-width="0.9"/>
<line x1="499.00" y1="459.00" x2="639.00" y2="459.00" stroke="#FFFFFF" stroke-opacity="0.75" stroke-width="0.9"/>
<line x1="499.00" y1="434.33" x2="639.00" y2="434.33" stroke="#FFFFFF" stroke-opacity="0.75" stroke-width="0.9"/>
<line x1="499.00" y1="409.67" x2="639.00" y2="409.67" stroke="#FFFFFF" stroke-opacity="0.75" stroke-width="0.9"/>
<line x1="523.75" y1="403.75" x2="523.75" y2="500.50" stroke="#FFFFFF" stroke-opacity="0.85" stroke-width="1.0"/>
<line x1="560.08" y1="403.75" x2="560.08" y2="500.50" stroke="#FFFFFF" stroke-opacity="0.85" stroke-width="1.0"/>
<line x1="596.42" y1="403.75" x2="596.42" y2="500.50" stroke="#FFFFFF" stroke-opacity="0.85" stroke-width="1.0"/>
<line x1="632.75" y1="403.75" x2="632.75" y2="500.50" stroke="#FFFFFF" stroke-opacity="0.85" stroke-width="1.0"/>
<line x1="499.00" y1="496.00" x2="639.00" y2="496.00" stroke="#FFFFFF" stroke-opacity="0.85" stroke-width="1.0"/>
<line x1="499.00" y1="471.33" x2="639.00" y2="471.33" stroke="#FFFFFF" stroke-opacity="0.85" stroke-width="1.0"/>
<line x1="499.00" y1="446.67" x2="639.00" y2="446.67" stroke="#FFFFFF" stroke-opacity="0.85" stroke-width="1.0"/>
<line x1="499.00" y1="422.00" x2="639.00" y2="422.00" stroke="#FFFFFF" stroke-opacity="0.85" stroke-width="1.0"/>
<line x1="497.40" y1="496.00" x2="499.00" y2="496.00" stroke="#333333" stroke-width="0.8"/>
<text transform="translate(496.40,497.91) scale(0.847,1)" font-size="5.29" text-anchor="end" fill="#3A3A3A">0.0</text>
<line x1="497.40" y1="471.33" x2="499.00" y2="471.33" stroke="#333333" stroke-width="0.8"/>
<text transform="translate(496.40,473.25) scale(0.847,1)" font-size="5.29" text-anchor="end" fill="#3A3A3A">0.2</text>
<line x1="497.40" y1="446.67" x2="499.00" y2="446.67" stroke="#333333" stroke-width="0.8"/>
<text transform="translate(496.40,448.58) scale(0.847,1)" font-size="5.29" text-anchor="end" fill="#3A3A3A">0.4</text>
<line x1="497.40" y1="422.00" x2="499.00" y2="422.00" stroke="#333333" stroke-width="0.8"/>
<text transform="translate(496.40,423.91) scale(0.847,1)" font-size="5.29" text-anchor="end" fill="#3A3A3A">0.6</text>
<line x1="523.75" y1="500.50" x2="523.75" y2="502.10" stroke="#333333" stroke-width="0.8"/>
<text transform="translate(523.75,506.93) scale(0.847,1)" font-size="5.29" text-anchor="middle" fill="#3A3A3A">4</text>
<line x1="560.08" y1="500.50" x2="560.08" y2="502.10" stroke="#333333" stroke-width="0.8"/>
<text transform="translate(560.08,506.93) scale(0.847,1)" font-size="5.29" text-anchor="middle" fill="#3A3A3A">8</text>
<line x1="596.42" y1="500.50" x2="596.42" y2="502.10" stroke="#333333" stroke-width="0.8"/>
<text transform="translate(596.42,506.93) scale(0.847,1)" font-size="5.29" text-anchor="middle" fill="#3A3A3A">12</text>
<line x1="632.75" y1="500.50" x2="632.75" y2="502.10" stroke="#333333" stroke-width="0.8"/>
<text transform="translate(632.75,506.93) scale(0.847,1)" font-size="5.29" text-anchor="middle" fill="#3A3A3A">16</text>
<text transform="translate(569.00,513.30) scale(0.870,1)" font-size="6.21" text-anchor="middle" fill="#000">Embedding size m</text>
<text transform="translate(486.10,452.12) rotate(-90) scale(0.870,1)" font-size="6.21" text-anchor="middle" fill="#000">Precision @ 50</text>
<text x="499.00" y="381.30" font-size="6.48" fill="#000">Stock indices k=50</text>
<svg x="499.00" y="403.75" width="140.00" height="96.75" viewBox="499.00 403.75 140.00 96.75" overflow="hidden">
<polyline points="505.58,493.53 523.75,479.97 560.08,439.27 632.75,408.43" fill="none" stroke="#F9625C" stroke-width="1.9" stroke-linejoin="round"/>
<polyline points="505.58,494.77 523.75,482.43 560.08,454.07 632.75,426.93" fill="none" stroke="#78AC00" stroke-width="1.9" stroke-dasharray="3.5 3" stroke-linejoin="round"/>
<polyline points="505.58,496.00 523.75,487.37 560.08,450.37 632.75,415.83" fill="none" stroke="#00BDC2" stroke-width="1.9" stroke-dasharray="6.5 3.3" stroke-linejoin="round"/>
<polyline points="505.58,494.77 523.75,489.83 560.08,476.27 632.75,462.70" fill="none" stroke="#C476FF" stroke-width="1.9" stroke-dasharray="6 6.5" stroke-linejoin="round"/>
<circle cx="505.58" cy="493.53" r="2.45" fill="#FFFFFF" stroke="#F9625C" stroke-width="0.85"/>
<circle cx="523.75" cy="479.97" r="2.45" fill="#FFFFFF" stroke="#F9625C" stroke-width="0.85"/>
<circle cx="560.08" cy="439.27" r="2.45" fill="#FFFFFF" stroke="#F9625C" stroke-width="0.85"/>
<circle cx="632.75" cy="408.43" r="2.45" fill="#FFFFFF" stroke="#F9625C" stroke-width="0.85"/>
<circle cx="505.58" cy="494.77" r="2.45" fill="#FFFFFF" stroke="#F9625C" stroke-width="0.85"/>
<circle cx="523.75" cy="482.43" r="2.45" fill="#FFFFFF" stroke="#F9625C" stroke-width="0.85"/>
<circle cx="560.08" cy="454.07" r="2.45" fill="#FFFFFF" stroke="#F9625C" stroke-width="0.85"/>
<circle cx="632.75" cy="426.93" r="2.45" fill="#FFFFFF" stroke="#F9625C" stroke-width="0.85"/>
<circle cx="505.58" cy="496.00" r="2.45" fill="#FFFFFF" stroke="#F9625C" stroke-width="0.85"/>
<circle cx="523.75" cy="487.37" r="2.45" fill="#FFFFFF" stroke="#F9625C" stroke-width="0.85"/>
<circle cx="560.08" cy="450.37" r="2.45" fill="#FFFFFF" stroke="#F9625C" stroke-width="0.85"/>
<circle cx="632.75" cy="415.83" r="2.45" fill="#FFFFFF" stroke="#F9625C" stroke-width="0.85"/>
<circle cx="505.58" cy="494.77" r="2.45" fill="#FFFFFF" stroke="#F9625C" stroke-width="0.85"/>
<circle cx="523.75" cy="489.83" r="2.45" fill="#FFFFFF" stroke="#F9625C" stroke-width="0.85"/>
<circle cx="560.08" cy="476.27" r="2.45" fill="#FFFFFF" stroke="#F9625C" stroke-width="0.85"/>
<circle cx="632.75" cy="462.70" r="2.45" fill="#FFFFFF" stroke="#F9625C" stroke-width="0.85"/>
</svg>
<text transform="translate(498.90,393.74) scale(0.833,1)" font-size="6.48" text-anchor="start" fill="#000">variable</text>
<rect x="520.30" y="387.40" width="7.80" height="8.00" fill="#F2F2F2"/>
<line x1="520.60" y1="391.40" x2="527.80" y2="391.40" stroke="#F9625C" stroke-width="1.5"/>
<text transform="translate(529.30,393.41) scale(0.833,1)" font-size="5.38" text-anchor="start" fill="#000">chronos_order</text>
<rect x="559.60" y="387.40" width="7.80" height="8.00" fill="#F2F2F2"/>
<line x1="559.90" y1="391.40" x2="567.10" y2="391.40" stroke="#78AC00" stroke-width="1.5" stroke-dasharray="3.5 3"/>
<text transform="translate(569.50,393.41) scale(0.833,1)" font-size="5.38" text-anchor="start" fill="#000">chronos_app</text>
<rect x="596.20" y="387.40" width="7.80" height="8.00" fill="#F2F2F2"/>
<line x1="596.50" y1="391.40" x2="603.70" y2="391.40" stroke="#00BDC2" stroke-width="1.5" stroke-dasharray="6.5 3.3"/>
<text transform="translate(605.90,393.41) scale(0.833,1)" font-size="5.38" text-anchor="start" fill="#000">DFT</text>
<rect x="616.20" y="387.40" width="7.80" height="8.00" fill="#F2F2F2"/>
<line x1="616.50" y1="391.40" x2="623.70" y2="391.40" stroke="#C476FF" stroke-width="1.5" stroke-dasharray="6 6.5"/>
<text transform="translate(625.00,393.41) scale(0.833,1)" font-size="5.38" text-anchor="start" fill="#000">sample</text>
<rect x="18.50" y="547.75" width="137.50" height="95.50" fill="#EBEBEB"/>
<line x1="24.29" y1="547.75" x2="24.29" y2="643.25" stroke="#FFFFFF" stroke-opacity="0.75" stroke-width="0.9"/>
<line x1="60.21" y1="547.75" x2="60.21" y2="643.25" stroke="#FFFFFF" stroke-opacity="0.75" stroke-width="0.9"/>
<line x1="96.12" y1="547.75" x2="96.12" y2="643.25" stroke="#FFFFFF" stroke-opacity="0.75" stroke-width="0.9"/>
<line x1="132.04" y1="547.75" x2="132.04" y2="643.25" stroke="#FFFFFF" stroke-opacity="0.75" stroke-width="0.9"/>
<line x1="18.50" y1="627.75" x2="156.00" y2="627.75" stroke="#FFFFFF" stroke-opacity="0.75" stroke-width="0.9"/>
<line x1="18.50" y1="602.25" x2="156.00" y2="602.25" stroke="#FFFFFF" stroke-opacity="0.75" stroke-width="0.9"/>
<line x1="18.50" y1="576.75" x2="156.00" y2="576.75" stroke="#FFFFFF" stroke-opacity="0.75" stroke-width="0.9"/>
<line x1="18.50" y1="551.25" x2="156.00" y2="551.25" stroke="#FFFFFF" stroke-opacity="0.75" stroke-width="0.9"/>
<line x1="42.25" y1="547.75" x2="42.25" y2="643.25" stroke="#FFFFFF" stroke-opacity="0.85" stroke-width="1.0"/>
<line x1="78.17" y1="547.75" x2="78.17" y2="643.25" stroke="#FFFFFF" stroke-opacity="0.85" stroke-width="1.0"/>
<line x1="114.08" y1="547.75" x2="114.08" y2="643.25" stroke="#FFFFFF" stroke-opacity="0.85" stroke-width="1.0"/>
<line x1="150.00" y1="547.75" x2="150.00" y2="643.25" stroke="#FFFFFF" stroke-opacity="0.85" stroke-width="1.0"/>
<line x1="18.50" y1="640.50" x2="156.00" y2="640.50" stroke="#FFFFFF" stroke-opacity="0.85" stroke-width="1.0"/>
<line x1="18.50" y1="615.00" x2="156.00" y2="615.00" stroke="#FFFFFF" stroke-opacity="0.85" stroke-width="1.0"/>
<line x1="18.50" y1="589.50" x2="156.00" y2="589.50" stroke="#FFFFFF" stroke-opacity="0.85" stroke-width="1.0"/>
<line x1="18.50" y1="564.00" x2="156.00" y2="564.00" stroke="#FFFFFF" stroke-opacity="0.85" stroke-width="1.0"/>
<line x1="16.90" y1="640.50" x2="18.50" y2="640.50" stroke="#333333" stroke-width="0.8"/>
<text transform="translate(15.90,642.41) scale(0.847,1)" font-size="5.29" text-anchor="end" fill="#3A3A3A">0.00</text>
<line x1="16.90" y1="615.00" x2="18.50" y2="615.00" stroke="#333333" stroke-width="0.8"/>
<text transform="translate(15.90,616.91) scale(0.847,1)" font-size="5.29" text-anchor="end" fill="#3A3A3A">0.25</text>
<line x1="16.90" y1="589.50" x2="18.50" y2="589.50" stroke="#333333" stroke-width="0.8"/>
<text transform="translate(15.90,591.41) scale(0.847,1)" font-size="5.29" text-anchor="end" fill="#3A3A3A">0.50</text>
<line x1="16.90" y1="564.00" x2="18.50" y2="564.00" stroke="#333333" stroke-width="0.8"/>
<text transform="translate(15.90,565.91) scale(0.847,1)" font-size="5.29" text-anchor="end" fill="#3A3A3A">0.75</text>
<line x1="42.25" y1="643.25" x2="42.25" y2="644.85" stroke="#333333" stroke-width="0.8"/>
<text transform="translate(42.25,649.68) scale(0.847,1)" font-size="5.29" text-anchor="middle" fill="#3A3A3A">4</text>
<line x1="78.17" y1="643.25" x2="78.17" y2="644.85" stroke="#333333" stroke-width="0.8"/>
<text transform="translate(78.17,649.68) scale(0.847,1)" font-size="5.29" text-anchor="middle" fill="#3A3A3A">8</text>
<line x1="114.08" y1="643.25" x2="114.08" y2="644.85" stroke="#333333" stroke-width="0.8"/>
<text transform="translate(114.08,649.68) scale(0.847,1)" font-size="5.29" text-anchor="middle" fill="#3A3A3A">12</text>
<line x1="150.00" y1="643.25" x2="150.00" y2="644.85" stroke="#333333" stroke-width="0.8"/>
<text transform="translate(150.00,649.68) scale(0.847,1)" font-size="5.29" text-anchor="middle" fill="#3A3A3A">16</text>
<text transform="translate(87.25,655.50) scale(0.870,1)" font-size="6.21" text-anchor="middle" fill="#000">Embedding size m</text>
<text transform="translate(4.60,595.50) rotate(-90) scale(0.870,1)" font-size="6.21" text-anchor="middle" fill="#000">Precision @ 100</text>
<text x="18.50" y="524.00" font-size="6.48" fill="#000">Star Light Curve k=100</text>
<svg x="18.50" y="547.75" width="137.50" height="95.50" viewBox="18.50 547.75 137.50 95.50" overflow="hidden">
<polyline points="24.29,632.34 42.25,594.60 78.17,569.10 150.00,552.78" fill="none" stroke="#F9625C" stroke-width="1.9" stroke-linejoin="round"/>
<polyline points="24.29,637.44 42.25,594.60 78.17,569.10 150.00,553.80" fill="none" stroke="#78AC00" stroke-width="1.9" stroke-dasharray="3.5 3" stroke-linejoin="round"/>
<polyline points="24.29,639.48 42.25,616.02 78.17,580.32 150.00,556.86" fill="none" stroke="#00BDC2" stroke-width="1.9" stroke-dasharray="6.5 3.3" stroke-linejoin="round"/>
<polyline points="24.29,638.46 42.25,622.14 78.17,602.76 150.00,572.16" fill="none" stroke="#C476FF" stroke-width="1.9" stroke-dasharray="6 6.5" stroke-linejoin="round"/>
<circle cx="24.29" cy="632.34" r="2.45" fill="#FFFFFF" stroke="#F9625C" stroke-width="0.85"/>
<circle cx="42.25" cy="594.60" r="2.45" fill="#FFFFFF" stroke="#F9625C" stroke-width="0.85"/>
<circle cx="78.17" cy="569.10" r="2.45" fill="#FFFFFF" stroke="#F9625C" stroke-width="0.85"/>
<circle cx="150.00" cy="552.78" r="2.45" fill="#FFFFFF" stroke="#F9625C" stroke-width="0.85"/>
<circle cx="24.29" cy="637.44" r="2.45" fill="#FFFFFF" stroke="#F9625C" stroke-width="0.85"/>
<circle cx="42.25" cy="594.60" r="2.45" fill="#FFFFFF" stroke="#F9625C" stroke-width="0.85"/>
<circle cx="78.17" cy="569.10" r="2.45" fill="#FFFFFF" stroke="#F9625C" stroke-width="0.85"/>
<circle cx="150.00" cy="553.80" r="2.45" fill="#FFFFFF" stroke="#F9625C" stroke-width="0.85"/>
<circle cx="24.29" cy="639.48" r="2.45" fill="#FFFFFF" stroke="#F9625C" stroke-width="0.85"/>
<circle cx="42.25" cy="616.02" r="2.45" fill="#FFFFFF" stroke="#F9625C" stroke-width="0.85"/>
<circle cx="78.17" cy="580.32" r="2.45" fill="#FFFFFF" stroke="#F9625C" stroke-width="0.85"/>
<circle cx="150.00" cy="556.86" r="2.45" fill="#FFFFFF" stroke="#F9625C" stroke-width="0.85"/>
<circle cx="24.29" cy="638.46" r="2.45" fill="#FFFFFF" stroke="#F9625C" stroke-width="0.85"/>
<circle cx="42.25" cy="622.14" r="2.45" fill="#FFFFFF" stroke="#F9625C" stroke-width="0.85"/>
<circle cx="78.17" cy="602.76" r="2.45" fill="#FFFFFF" stroke="#F9625C" stroke-width="0.85"/>
<circle cx="150.00" cy="572.16" r="2.45" fill="#FFFFFF" stroke="#F9625C" stroke-width="0.85"/>
</svg>
<text transform="translate(17.10,538.09) scale(0.833,1)" font-size="6.48" text-anchor="start" fill="#000">variable</text>
<rect x="38.50" y="531.75" width="7.80" height="8.00" fill="#F2F2F2"/>
<line x1="38.80" y1="535.75" x2="46.00" y2="535.75" stroke="#F9625C" stroke-width="1.5"/>
<text transform="translate(47.50,537.76) scale(0.833,1)" font-size="5.38" text-anchor="start" fill="#000">chronos_order</text>
<rect x="77.80" y="531.75" width="7.80" height="8.00" fill="#F2F2F2"/>
<line x1="78.10" y1="535.75" x2="85.30" y2="535.75" stroke="#78AC00" stroke-width="1.5" stroke-dasharray="3.5 3"/>
<text transform="translate(87.70,537.76) scale(0.833,1)" font-size="5.38" text-anchor="start" fill="#000">chronos_app</text>
<rect x="114.40" y="531.75" width="7.80" height="8.00" fill="#F2F2F2"/>
<line x1="114.70" y1="535.75" x2="121.90" y2="535.75" stroke="#00BDC2" stroke-width="1.5" stroke-dasharray="6.5 3.3"/>
<text transform="translate(124.10,537.76) scale(0.833,1)" font-size="5.38" text-anchor="start" fill="#000">DFT</text>
<rect x="134.40" y="531.75" width="7.80" height="8.00" fill="#F2F2F2"/>
<line x1="134.70" y1="535.75" x2="141.90" y2="535.75" stroke="#C476FF" stroke-width="1.5" stroke-dasharray="6 6.5"/>
<text transform="translate(143.20,537.76) scale(0.833,1)" font-size="5.38" text-anchor="start" fill="#000">sample</text>
<rect x="177.00" y="546.50" width="139.25" height="96.75" fill="#EBEBEB"/>
<line x1="183.29" y1="546.50" x2="183.29" y2="643.25" stroke="#FFFFFF" stroke-opacity="0.75" stroke-width="0.9"/>
<line x1="219.71" y1="546.50" x2="219.71" y2="643.25" stroke="#FFFFFF" stroke-opacity="0.75" stroke-width="0.9"/>
<line x1="256.12" y1="546.50" x2="256.12" y2="643.25" stroke="#FFFFFF" stroke-opacity="0.75" stroke-width="0.9"/>
<line x1="292.54" y1="546.50" x2="292.54" y2="643.25" stroke="#FFFFFF" stroke-opacity="0.75" stroke-width="0.9"/>
<line x1="177.00" y1="630.72" x2="316.25" y2="630.72" stroke="#FFFFFF" stroke-opacity="0.75" stroke-width="0.9"/>
<line x1="177.00" y1="609.66" x2="316.25" y2="609.66" stroke="#FFFFFF" stroke-opacity="0.75" stroke-width="0.9"/>
<line x1="177.00" y1="588.59" x2="316.25" y2="588.59" stroke="#FFFFFF" stroke-opacity="0.75" stroke-width="0.9"/>
<line x1="177.00" y1="567.53" x2="316.25" y2="567.53" stroke="#FFFFFF" stroke-opacity="0.75" stroke-width="0.9"/>
<line x1="201.50" y1="546.50" x2="201.50" y2="643.25" stroke="#FFFFFF" stroke-opacity="0.85" stroke-width="1.0"/>
<line x1="237.92" y1="546.50" x2="237.92" y2="643.25" stroke="#FFFFFF" stroke-opacity="0.85" stroke-width="1.0"/>
<line x1="274.33" y1="546.50" x2="274.33" y2="643.25" stroke="#FFFFFF" stroke-opacity="0.85" stroke-width="1.0"/>
<line x1="310.75" y1="546.50" x2="310.75" y2="643.25" stroke="#FFFFFF" stroke-opacity="0.85" stroke-width="1.0"/>
<line x1="177.00" y1="641.25" x2="316.25" y2="641.25" stroke="#FFFFFF" stroke-opacity="0.85" stroke-width="1.0"/>
<line x1="177.00" y1="620.19" x2="316.25" y2="620.19" stroke="#FFFFFF" stroke-opacity="0.85" stroke-width="1.0"/>
<line x1="177.00" y1="599.12" x2="316.25" y2="599.12" stroke="#FFFFFF" stroke-opacity="0.85" stroke-width="1.0"/>
<line x1="177.00" y1="578.06" x2="316.25" y2="578.06" stroke="#FFFFFF" stroke-opacity="0.85" stroke-width="1.0"/>
<line x1="177.00" y1="557.00" x2="316.25" y2="557.00" stroke="#FFFFFF" stroke-opacity="0.85" stroke-width="1.0"/>
<line x1="175.40" y1="641.25" x2="177.00" y2="641.25" stroke="#333333" stroke-width="0.8"/>
<text transform="translate(174.40,643.16) scale(0.847,1)" font-size="5.29" text-anchor="end" fill="#3A3A3A">0.0</text>
<line x1="175.40" y1="620.19" x2="177.00" y2="620.19" stroke="#333333" stroke-width="0.8"/>
<text transform="translate(174.40,622.10) scale(0.847,1)" font-size="5.29" text-anchor="end" fill="#3A3A3A">0.2</text>
<line x1="175.40" y1="599.12" x2="177.00" y2="599.12" stroke="#333333" stroke-width="0.8"/>
<text transform="translate(174.40,601.04) scale(0.847,1)" font-size="5.29" text-anchor="end" fill="#3A3A3A">0.4</text>
<line x1="175.40" y1="578.06" x2="177.00" y2="578.06" stroke="#333333" stroke-width="0.8"/>
<text transform="translate(174.40,579.98) scale(0.847,1)" font-size="5.29" text-anchor="end" fill="#3A3A3A">0.6</text>
<line x1="175.40" y1="557.00" x2="177.00" y2="557.00" stroke="#333333" stroke-width="0.8"/>
<text transform="translate(174.40,558.91) scale(0.847,1)" font-size="5.29" text-anchor="end" fill="#3A3A3A">0.8</text>
<line x1="201.50" y1="643.25" x2="201.50" y2="644.85" stroke="#333333" stroke-width="0.8"/>
<text transform="translate(201.50,649.68) scale(0.847,1)" font-size="5.29" text-anchor="middle" fill="#3A3A3A">4</text>
<line x1="237.92" y1="643.25" x2="237.92" y2="644.85" stroke="#333333" stroke-width="0.8"/>
<text transform="translate(237.92,649.68) scale(0.847,1)" font-size="5.29" text-anchor="middle" fill="#3A3A3A">8</text>
<line x1="274.33" y1="643.25" x2="274.33" y2="644.85" stroke="#333333" stroke-width="0.8"/>
<text transform="translate(274.33,649.68) scale(0.847,1)" font-size="5.29" text-anchor="middle" fill="#3A3A3A">12</text>
<line x1="310.75" y1="643.25" x2="310.75" y2="644.85" stroke="#333333" stroke-width="0.8"/>
<text transform="translate(310.75,649.68) scale(0.847,1)" font-size="5.29" text-anchor="middle" fill="#3A3A3A">16</text>
<text transform="translate(246.62,655.50) scale(0.870,1)" font-size="6.21" text-anchor="middle" fill="#000">Embedding size m</text>
<text transform="translate(165.10,594.88) rotate(-90) scale(0.870,1)" font-size="6.21" text-anchor="middle" fill="#000">Precision @ 100</text>
<text x="177.00" y="524.00" font-size="6.48" fill="#000">UWave Gesture k=100</text>
<svg x="177.00" y="546.50" width="139.25" height="96.75" viewBox="177.00 546.50 139.25 96.75" overflow="hidden">
<polyline points="183.29,628.61 201.50,600.18 237.92,570.69 310.75,551.73" fill="none" stroke="#F9625C" stroke-width="1.9" stroke-linejoin="round"/>
<polyline points="183.29,630.72 201.50,603.34 237.92,578.06 310.75,558.05" fill="none" stroke="#78AC00" stroke-width="1.9" stroke-dasharray="3.5 3" stroke-linejoin="round"/>
<polyline points="183.29,639.14 201.50,621.24 237.92,591.75 310.75,564.37" fill="none" stroke="#00BDC2" stroke-width="1.9" stroke-dasharray="6.5 3.3" stroke-linejoin="round"/>
<polyline points="183.29,633.88 201.50,624.40 237.92,594.91 310.75,572.80" fill="none" stroke="#C476FF" stroke-width="1.9" stroke-dasharray="6 6.5" stroke-linejoin="round"/>
<circle cx="183.29" cy="628.61" r="2.45" fill="#FFFFFF" stroke="#F9625C" stroke-width="0.85"/>
<circle cx="201.50" cy="600.18" r="2.45" fill="#FFFFFF" stroke="#F9625C" stroke-width="0.85"/>
<circle cx="237.92" cy="570.69" r="2.45" fill="#FFFFFF" stroke="#F9625C" stroke-width="0.85"/>
<circle cx="310.75" cy="551.73" r="2.45" fill="#FFFFFF" stroke="#F9625C" stroke-width="0.85"/>
<circle cx="183.29" cy="630.72" r="2.45" fill="#FFFFFF" stroke="#F9625C" stroke-width="0.85"/>
<circle cx="201.50" cy="603.34" r="2.45" fill="#FFFFFF" stroke="#F9625C" stroke-width="0.85"/>
<circle cx="237.92" cy="578.06" r="2.45" fill="#FFFFFF" stroke="#F9625C" stroke-width="0.85"/>
<circle cx="310.75" cy="558.05" r="2.45" fill="#FFFFFF" stroke="#F9625C" stroke-width="0.85"/>
<circle cx="183.29" cy="639.14" r="2.45" fill="#FFFFFF" stroke="#F9625C" stroke-width="0.85"/>
<circle cx="201.50" cy="621.24" r="2.45" fill="#FFFFFF" stroke="#F9625C" stroke-width="0.85"/>
<circle cx="237.92" cy="591.75" r="2.45" fill="#FFFFFF" stroke="#F9625C" stroke-width="0.85"/>
<circle cx="310.75" cy="564.37" r="2.45" fill="#FFFFFF" stroke="#F9625C" stroke-width="0.85"/>
<circle cx="183.29" cy="633.88" r="2.45" fill="#FFFFFF" stroke="#F9625C" stroke-width="0.85"/>
<circle cx="201.50" cy="624.40" r="2.45" fill="#FFFFFF" stroke="#F9625C" stroke-width="0.85"/>
<circle cx="237.92" cy="594.91" r="2.45" fill="#FFFFFF" stroke="#F9625C" stroke-width="0.85"/>
<circle cx="310.75" cy="572.80" r="2.45" fill="#FFFFFF" stroke="#F9625C" stroke-width="0.85"/>
</svg>
<text transform="translate(176.90,536.89) scale(0.833,1)" font-size="6.48" text-anchor="start" fill="#000">variable</text>
<rect x="198.30" y="530.55" width="7.80" height="8.00" fill="#F2F2F2"/>
<line x1="198.60" y1="534.55" x2="205.80" y2="534.55" stroke="#F9625C" stroke-width="1.5"/>
<text transform="translate(207.30,536.56) scale(0.833,1)" font-size="5.38" text-anchor="start" fill="#000">chronos_order</text>
<rect x="237.60" y="530.55" width="7.80" height="8.00" fill="#F2F2F2"/>
<line x1="237.90" y1="534.55" x2="245.10" y2="534.55" stroke="#78AC00" stroke-width="1.5" stroke-dasharray="3.5 3"/>
<text transform="translate(247.50,536.56) scale(0.833,1)" font-size="5.38" text-anchor="start" fill="#000">chronos_app</text>
<rect x="274.20" y="530.55" width="7.80" height="8.00" fill="#F2F2F2"/>
<line x1="274.50" y1="534.55" x2="281.70" y2="534.55" stroke="#00BDC2" stroke-width="1.5" stroke-dasharray="6.5 3.3"/>
<text transform="translate(283.90,536.56) scale(0.833,1)" font-size="5.38" text-anchor="start" fill="#000">DFT</text>
<rect x="294.20" y="530.55" width="7.80" height="8.00" fill="#F2F2F2"/>
<line x1="294.50" y1="534.55" x2="301.70" y2="534.55" stroke="#C476FF" stroke-width="1.5" stroke-dasharray="6 6.5"/>
<text transform="translate(303.00,536.56) scale(0.833,1)" font-size="5.38" text-anchor="start" fill="#000">sample</text>
<rect x="340.50" y="547.75" width="137.50" height="95.50" fill="#EBEBEB"/>
<line x1="346.50" y1="547.75" x2="346.50" y2="643.25" stroke="#FFFFFF" stroke-opacity="0.75" stroke-width="0.9"/>
<line x1="382.50" y1="547.75" x2="382.50" y2="643.25" stroke="#FFFFFF" stroke-opacity="0.75" stroke-width="0.9"/>
<line x1="418.50" y1="547.75" x2="418.50" y2="643.25" stroke="#FFFFFF" stroke-opacity="0.75" stroke-width="0.9"/>
<line x1="454.50" y1="547.75" x2="454.50" y2="643.25" stroke="#FFFFFF" stroke-opacity="0.75" stroke-width="0.9"/>
<line x1="340.50" y1="628.88" x2="478.00" y2="628.88" stroke="#FFFFFF" stroke-opacity="0.75" stroke-width="0.9"/>
<line x1="340.50" y1="604.62" x2="478.00" y2="604.62" stroke="#FFFFFF" stroke-opacity="0.75" stroke-width="0.9"/>
<line x1="340.50" y1="580.38" x2="478.00" y2="580.38" stroke="#FFFFFF" stroke-opacity="0.75" stroke-width="0.9"/>
<line x1="340.50" y1="556.12" x2="478.00" y2="556.12" stroke="#FFFFFF" stroke-opacity="0.75" stroke-width="0.9"/>
<line x1="364.50" y1="547.75" x2="364.50" y2="643.25" stroke="#FFFFFF" stroke-opacity="0.85" stroke-width="1.0"/>
<line x1="400.50" y1="547.75" x2="400.50" y2="643.25" stroke="#FFFFFF" stroke-opacity="0.85" stroke-width="1.0"/>
<line x1="436.50" y1="547.75" x2="436.50" y2="643.25" stroke="#FFFFFF" stroke-opacity="0.85" stroke-width="1.0"/>
<line x1="472.50" y1="547.75" x2="472.50" y2="643.25" stroke="#FFFFFF" stroke-opacity="0.85" stroke-width="1.0"/>
<line x1="340.50" y1="641.00" x2="478.00" y2="641.00" stroke="#FFFFFF" stroke-opacity="0.85" stroke-width="1.0"/>
<line x1="340.50" y1="616.75" x2="478.00" y2="616.75" stroke="#FFFFFF" stroke-opacity="0.85" stroke-width="1.0"/>
<line x1="340.50" y1="592.50" x2="478.00" y2="592.50" stroke="#FFFFFF" stroke-opacity="0.85" stroke-width="1.0"/>
<line x1="340.50" y1="568.25" x2="478.00" y2="568.25" stroke="#FFFFFF" stroke-opacity="0.85" stroke-width="1.0"/>
<line x1="338.90" y1="641.00" x2="340.50" y2="641.00" stroke="#333333" stroke-width="0.8"/>
<text transform="translate(337.90,642.91) scale(0.847,1)" font-size="5.29" text-anchor="end" fill="#3A3A3A">0.00</text>
<line x1="338.90" y1="616.75" x2="340.50" y2="616.75" stroke="#333333" stroke-width="0.8"/>
<text transform="translate(337.90,618.66) scale(0.847,1)" font-size="5.29" text-anchor="end" fill="#3A3A3A">0.25</text>
<line x1="338.90" y1="592.50" x2="340.50" y2="592.50" stroke="#333333" stroke-width="0.8"/>
<text transform="translate(337.90,594.41) scale(0.847,1)" font-size="5.29" text-anchor="end" fill="#3A3A3A">0.50</text>
<line x1="338.90" y1="568.25" x2="340.50" y2="568.25" stroke="#333333" stroke-width="0.8"/>
<text transform="translate(337.90,570.16) scale(0.847,1)" font-size="5.29" text-anchor="end" fill="#3A3A3A">0.75</text>
<line x1="364.50" y1="643.25" x2="364.50" y2="644.85" stroke="#333333" stroke-width="0.8"/>
<text transform="translate(364.50,649.68) scale(0.847,1)" font-size="5.29" text-anchor="middle" fill="#3A3A3A">4</text>
<line x1="400.50" y1="643.25" x2="400.50" y2="644.85" stroke="#333333" stroke-width="0.8"/>
<text transform="translate(400.50,649.68) scale(0.847,1)" font-size="5.29" text-anchor="middle" fill="#3A3A3A">8</text>
<line x1="436.50" y1="643.25" x2="436.50" y2="644.85" stroke="#333333" stroke-width="0.8"/>
<text transform="translate(436.50,649.68) scale(0.847,1)" font-size="5.29" text-anchor="middle" fill="#3A3A3A">12</text>
<line x1="472.50" y1="643.25" x2="472.50" y2="644.85" stroke="#333333" stroke-width="0.8"/>
<text transform="translate(472.50,649.68) scale(0.847,1)" font-size="5.29" text-anchor="middle" fill="#3A3A3A">16</text>
<text transform="translate(409.25,655.50) scale(0.870,1)" font-size="6.21" text-anchor="middle" fill="#000">Embedding size m</text>
<text transform="translate(326.10,595.50) rotate(-90) scale(0.870,1)" font-size="6.21" text-anchor="middle" fill="#000">Precision @ 100</text>
<text x="340.50" y="524.00" font-size="6.48" fill="#000">Yoga k=100</text>
<svg x="340.50" y="547.75" width="137.50" height="95.50" viewBox="340.50 547.75 137.50 95.50" overflow="hidden">
<polyline points="346.50,629.36 364.50,603.17 400.50,576.01 472.50,558.55" fill="none" stroke="#F9625C" stroke-width="1.9" stroke-linejoin="round"/>
<polyline points="346.50,632.27 364.50,606.08 400.50,582.80 472.50,564.37" fill="none" stroke="#78AC00" stroke-width="1.9" stroke-dasharray="3.5 3" stroke-linejoin="round"/>
<polyline points="346.50,639.06 364.50,622.57 400.50,595.41 472.50,570.19" fill="none" stroke="#00BDC2" stroke-width="1.9" stroke-dasharray="6.5 3.3" stroke-linejoin="round"/>
<polyline points="346.50,625.48 364.50,594.44 400.50,568.25 472.50,552.73" fill="none" stroke="#C476FF" stroke-width="1.9" stroke-dasharray="6 6.5" stroke-linejoin="round"/>
<circle cx="346.50" cy="629.36" r="2.45" fill="#FFFFFF" stroke="#F9625C" stroke-width="0.85"/>
<circle cx="364.50" cy="603.17" r="2.45" fill="#FFFFFF" stroke="#F9625C" stroke-width="0.85"/>
<circle cx="400.50" cy="576.01" r="2.45" fill="#FFFFFF" stroke="#F9625C" stroke-width="0.85"/>
<circle cx="472.50" cy="558.55" r="2.45" fill="#FFFFFF" stroke="#F9625C" stroke-width="0.85"/>
<circle cx="346.50" cy="632.27" r="2.45" fill="#FFFFFF" stroke="#F9625C" stroke-width="0.85"/>
<circle cx="364.50" cy="606.08" r="2.45" fill="#FFFFFF" stroke="#F9625C" stroke-width="0.85"/>
<circle cx="400.50" cy="582.80" r="2.45" fill="#FFFFFF" stroke="#F9625C" stroke-width="0.85"/>
<circle cx="472.50" cy="564.37" r="2.45" fill="#FFFFFF" stroke="#F9625C" stroke-width="0.85"/>
<circle cx="346.50" cy="639.06" r="2.45" fill="#FFFFFF" stroke="#F9625C" stroke-width="0.85"/>
<circle cx="364.50" cy="622.57" r="2.45" fill="#FFFFFF" stroke="#F9625C" stroke-width="0.85"/>
<circle cx="400.50" cy="595.41" r="2.45" fill="#FFFFFF" stroke="#F9625C" stroke-width="0.85"/>
<circle cx="472.50" cy="570.19" r="2.45" fill="#FFFFFF" stroke="#F9625C" stroke-width="0.85"/>
<circle cx="346.50" cy="625.48" r="2.45" fill="#FFFFFF" stroke="#F9625C" stroke-width="0.85"/>
<circle cx="364.50" cy="594.44" r="2.45" fill="#FFFFFF" stroke="#F9625C" stroke-width="0.85"/>
<circle cx="400.50" cy="568.25" r="2.45" fill="#FFFFFF" stroke="#F9625C" stroke-width="0.85"/>
<circle cx="472.50" cy="552.73" r="2.45" fill="#FFFFFF" stroke="#F9625C" stroke-width="0.85"/>
</svg>
<text transform="translate(339.10,538.09) scale(0.833,1)" font-size="6.48" text-anchor="start" fill="#000">variable</text>
<rect x="360.50" y="531.75" width="7.80" height="8.00" fill="#F2F2F2"/>
<line x1="360.80" y1="535.75" x2="368.00" y2="535.75" stroke="#F9625C" stroke-width="1.5"/>
<text transform="translate(369.50,537.76) scale(0.833,1)" font-size="5.38" text-anchor="start" fill="#000">chronos_order</text>
<rect x="399.80" y="531.75" width="7.80" height="8.00" fill="#F2F2F2"/>
<line x1="400.10" y1="535.75" x2="407.30" y2="535.75" stroke="#78AC00" stroke-width="1.5" stroke-dasharray="3.5 3"/>
<text transform="translate(409.70,537.76) scale(0.833,1)" font-size="5.38" text-anchor="start" fill="#000">chronos_app</text>
<rect x="436.40" y="531.75" width="7.80" height="8.00" fill="#F2F2F2"/>
<line x1="436.70" y1="535.75" x2="443.90" y2="535.75" stroke="#00BDC2" stroke-width="1.5" stroke-dasharray="6.5 3.3"/>
<text transform="translate(446.10,537.76) scale(0.833,1)" font-size="5.38" text-anchor="start" fill="#000">DFT</text>
<rect x="456.40" y="531.75" width="7.80" height="8.00" fill="#F2F2F2"/>
<line x1="456.70" y1="535.75" x2="463.90" y2="535.75" stroke="#C476FF" stroke-width="1.5" stroke-dasharray="6 6.5"/>
<text transform="translate(465.20,537.76) scale(0.833,1)" font-size="5.38" text-anchor="start" fill="#000">sample</text>
<rect x="499.50" y="546.50" width="139.50" height="96.75" fill="#EBEBEB"/>
<line x1="505.58" y1="546.50" x2="505.58" y2="643.25" stroke="#FFFFFF" stroke-opacity="0.75" stroke-width="0.9"/>
<line x1="541.92" y1="546.50" x2="541.92" y2="643.25" stroke="#FFFFFF" stroke-opacity="0.75" stroke-width="0.9"/>
<line x1="578.25" y1="546.50" x2="578.25" y2="643.25" stroke="#FFFFFF" stroke-opacity="0.75" stroke-width="0.9"/>
<line x1="614.58" y1="546.50" x2="614.58" y2="643.25" stroke="#FFFFFF" stroke-opacity="0.75" stroke-width="0.9"/>
<line x1="499.50" y1="628.12" x2="639.00" y2="628.12" stroke="#FFFFFF" stroke-opacity="0.75" stroke-width="0.9"/>
<line x1="499.50" y1="604.88" x2="639.00" y2="604.88" stroke="#FFFFFF" stroke-opacity="0.75" stroke-width="0.9"/>
<line x1="499.50" y1="581.62" x2="639.00" y2="581.62" stroke="#FFFFFF" stroke-opacity="0.75" stroke-width="0.9"/>
<line x1="499.50" y1="558.38" x2="639.00" y2="558.38" stroke="#FFFFFF" stroke-opacity="0.75" stroke-width="0.9"/>
<line x1="523.75" y1="546.50" x2="523.75" y2="643.25" stroke="#FFFFFF" stroke-opacity="0.85" stroke-width="1.0"/>
<line x1="560.08" y1="546.50" x2="560.08" y2="643.25" stroke="#FFFFFF" stroke-opacity="0.85" stroke-width="1.0"/>
<line x1="596.42" y1="546.50" x2="596.42" y2="643.25" stroke="#FFFFFF" stroke-opacity="0.85" stroke-width="1.0"/>
<line x1="632.75" y1="546.50" x2="632.75" y2="643.25" stroke="#FFFFFF" stroke-opacity="0.85" stroke-width="1.0"/>
<line x1="499.50" y1="639.75" x2="639.00" y2="639.75" stroke="#FFFFFF" stroke-opacity="0.85" stroke-width="1.0"/>
<line x1="499.50" y1="616.50" x2="639.00" y2="616.50" stroke="#FFFFFF" stroke-opacity="0.85" stroke-width="1.0"/>
<line x1="499.50" y1="593.25" x2="639.00" y2="593.25" stroke="#FFFFFF" stroke-opacity="0.85" stroke-width="1.0"/>
<line x1="499.50" y1="570.00" x2="639.00" y2="570.00" stroke="#FFFFFF" stroke-opacity="0.85" stroke-width="1.0"/>
<line x1="497.90" y1="639.75" x2="499.50" y2="639.75" stroke="#333333" stroke-width="0.8"/>
<text transform="translate(496.90,641.66) scale(0.847,1)" font-size="5.29" text-anchor="end" fill="#3A3A3A">0.0</text>
<line x1="497.90" y1="616.50" x2="499.50" y2="616.50" stroke="#333333" stroke-width="0.8"/>
<text transform="translate(496.90,618.41) scale(0.847,1)" font-size="5.29" text-anchor="end" fill="#3A3A3A">0.2</text>
<line x1="497.90" y1="593.25" x2="499.50" y2="593.25" stroke="#333333" stroke-width="0.8"/>
<text transform="translate(496.90,595.16) scale(0.847,1)" font-size="5.29" text-anchor="end" fill="#3A3A3A">0.4</text>
<line x1="497.90" y1="570.00" x2="499.50" y2="570.00" stroke="#333333" stroke-width="0.8"/>
<text transform="translate(496.90,571.91) scale(0.847,1)" font-size="5.29" text-anchor="end" fill="#3A3A3A">0.6</text>
<line x1="523.75" y1="643.25" x2="523.75" y2="644.85" stroke="#333333" stroke-width="0.8"/>
<text transform="translate(523.75,649.68) scale(0.847,1)" font-size="5.29" text-anchor="middle" fill="#3A3A3A">4</text>
<line x1="560.08" y1="643.25" x2="560.08" y2="644.85" stroke="#333333" stroke-width="0.8"/>
<text transform="translate(560.08,649.68) scale(0.847,1)" font-size="5.29" text-anchor="middle" fill="#3A3A3A">8</text>
<line x1="596.42" y1="643.25" x2="596.42" y2="644.85" stroke="#333333" stroke-width="0.8"/>
<text transform="translate(596.42,649.68) scale(0.847,1)" font-size="5.29" text-anchor="middle" fill="#3A3A3A">12</text>
<line x1="632.75" y1="643.25" x2="632.75" y2="644.85" stroke="#333333" stroke-width="0.8"/>
<text transform="translate(632.75,649.68) scale(0.847,1)" font-size="5.29" text-anchor="middle" fill="#3A3A3A">16</text>
<text transform="translate(569.25,655.50) scale(0.870,1)" font-size="6.21" text-anchor="middle" fill="#000">Embedding size m</text>
<text transform="translate(486.10,594.88) rotate(-90) scale(0.870,1)" font-size="6.21" text-anchor="middle" fill="#000">Precision @ 100</text>
<text x="499.50" y="524.00" font-size="6.48" fill="#000">Stock indices k=100</text>
<svg x="499.50" y="546.50" width="139.50" height="96.75" viewBox="499.50 546.50 139.50 96.75" overflow="hidden">
<polyline points="505.58,636.26 523.75,618.83 560.08,578.14 632.75,551.40" fill="none" stroke="#F9625C" stroke-width="1.9" stroke-linejoin="round"/>
<polyline points="505.58,637.42 523.75,621.15 560.08,592.09 632.75,566.51" fill="none" stroke="#78AC00" stroke-width="1.9" stroke-dasharray="3.5 3" stroke-linejoin="round"/>
<polyline points="505.58,638.59 523.75,628.12 560.08,588.60 632.75,558.38" fill="none" stroke="#00BDC2" stroke-width="1.9" stroke-dasharray="6.5 3.3" stroke-linejoin="round"/>
<polyline points="505.58,638.59 523.75,630.45 560.08,616.50 632.75,604.88" fill="none" stroke="#C476FF" stroke-width="1.9" stroke-dasharray="6 6.5" stroke-linejoin="round"/>
<circle cx="505.58" cy="636.26" r="2.45" fill="#FFFFFF" stroke="#F9625C" stroke-width="0.85"/>
<circle cx="523.75" cy="618.83" r="2.45" fill="#FFFFFF" stroke="#F9625C" stroke-width="0.85"/>
<circle cx="560.08" cy="578.14" r="2.45" fill="#FFFFFF" stroke="#F9625C" stroke-width="0.85"/>
<circle cx="632.75" cy="551.40" r="2.45" fill="#FFFFFF" stroke="#F9625C" stroke-width="0.85"/>
<circle cx="505.58" cy="637.42" r="2.45" fill="#FFFFFF" stroke="#F9625C" stroke-width="0.85"/>
<circle cx="523.75" cy="621.15" r="2.45" fill="#FFFFFF" stroke="#F9625C" stroke-width="0.85"/>
<circle cx="560.08" cy="592.09" r="2.45" fill="#FFFFFF" stroke="#F9625C" stroke-width="0.85"/>
<circle cx="632.75" cy="566.51" r="2.45" fill="#FFFFFF" stroke="#F9625C" stroke-width="0.85"/>
<circle cx="505.58" cy="638.59" r="2.45" fill="#FFFFFF" stroke="#F9625C" stroke-width="0.85"/>
<circle cx="523.75" cy="628.12" r="2.45" fill="#FFFFFF" stroke="#F9625C" stroke-width="0.85"/>
<circle cx="560.08" cy="588.60" r="2.45" fill="#FFFFFF" stroke="#F9625C" stroke-width="0.85"/>
<circle cx="632.75" cy="558.38" r="2.45" fill="#FFFFFF" stroke="#F9625C" stroke-width="0.85"/>
<circle cx="505.58" cy="638.59" r="2.45" fill="#FFFFFF" stroke="#F9625C" stroke-width="0.85"/>
<circle cx="523.75" cy="630.45" r="2.45" fill="#FFFFFF" stroke="#F9625C" stroke-width="0.85"/>
<circle cx="560.08" cy="616.50" r="2.45" fill="#FFFFFF" stroke="#F9625C" stroke-width="0.85"/>
<circle cx="632.75" cy="604.88" r="2.45" fill="#FFFFFF" stroke="#F9625C" stroke-width="0.85"/>
</svg>
<text transform="translate(498.90,536.89) scale(0.833,1)" font-size="6.48" text-anchor="start" fill="#000">variable</text>
<rect x="520.30" y="530.55" width="7.80" height="8.00" fill="#F2F2F2"/>
<line x1="520.60" y1="534.55" x2="527.80" y2="534.55" stroke="#F9625C" stroke-width="1.5"/>
<text transform="translate(529.30,536.56) scale(0.833,1)" font-size="5.38" text-anchor="start" fill="#000">chronos_order</text>
<rect x="559.60" y="530.55" width="7.80" height="8.00" fill="#F2F2F2"/>
<line x1="559.90" y1="534.55" x2="567.10" y2="534.55" stroke="#78AC00" stroke-width="1.5" stroke-dasharray="3.5 3"/>
<text transform="translate(569.50,536.56) scale(0.833,1)" font-size="5.38" text-anchor="start" fill="#000">chronos_app</text>
<rect x="596.20" y="530.55" width="7.80" height="8.00" fill="#F2F2F2"/>
<line x1="596.50" y1="534.55" x2="603.70" y2="534.55" stroke="#00BDC2" stroke-width="1.5" stroke-dasharray="6.5 3.3"/>
<text transform="translate(605.90,536.56) scale(0.833,1)" font-size="5.38" text-anchor="start" fill="#000">DFT</text>
<rect x="616.20" y="530.55" width="7.80" height="8.00" fill="#F2F2F2"/>
<line x1="616.50" y1="534.55" x2="623.70" y2="534.55" stroke="#C476FF" stroke-width="1.5" stroke-dasharray="6 6.5"/>
<text transform="translate(625.00,536.56) scale(0.833,1)" font-size="5.38" text-anchor="start" fill="#000">sample</text>
<text x="320.8" y="206.8" font-family="'Liberation Serif', serif" font-weight="bold" font-size="11.85" letter-spacing="0.08" text-anchor="middle" fill="#1a1a1a">Figure 2: Results on correlation approximation</text>
</svg></body></html>
